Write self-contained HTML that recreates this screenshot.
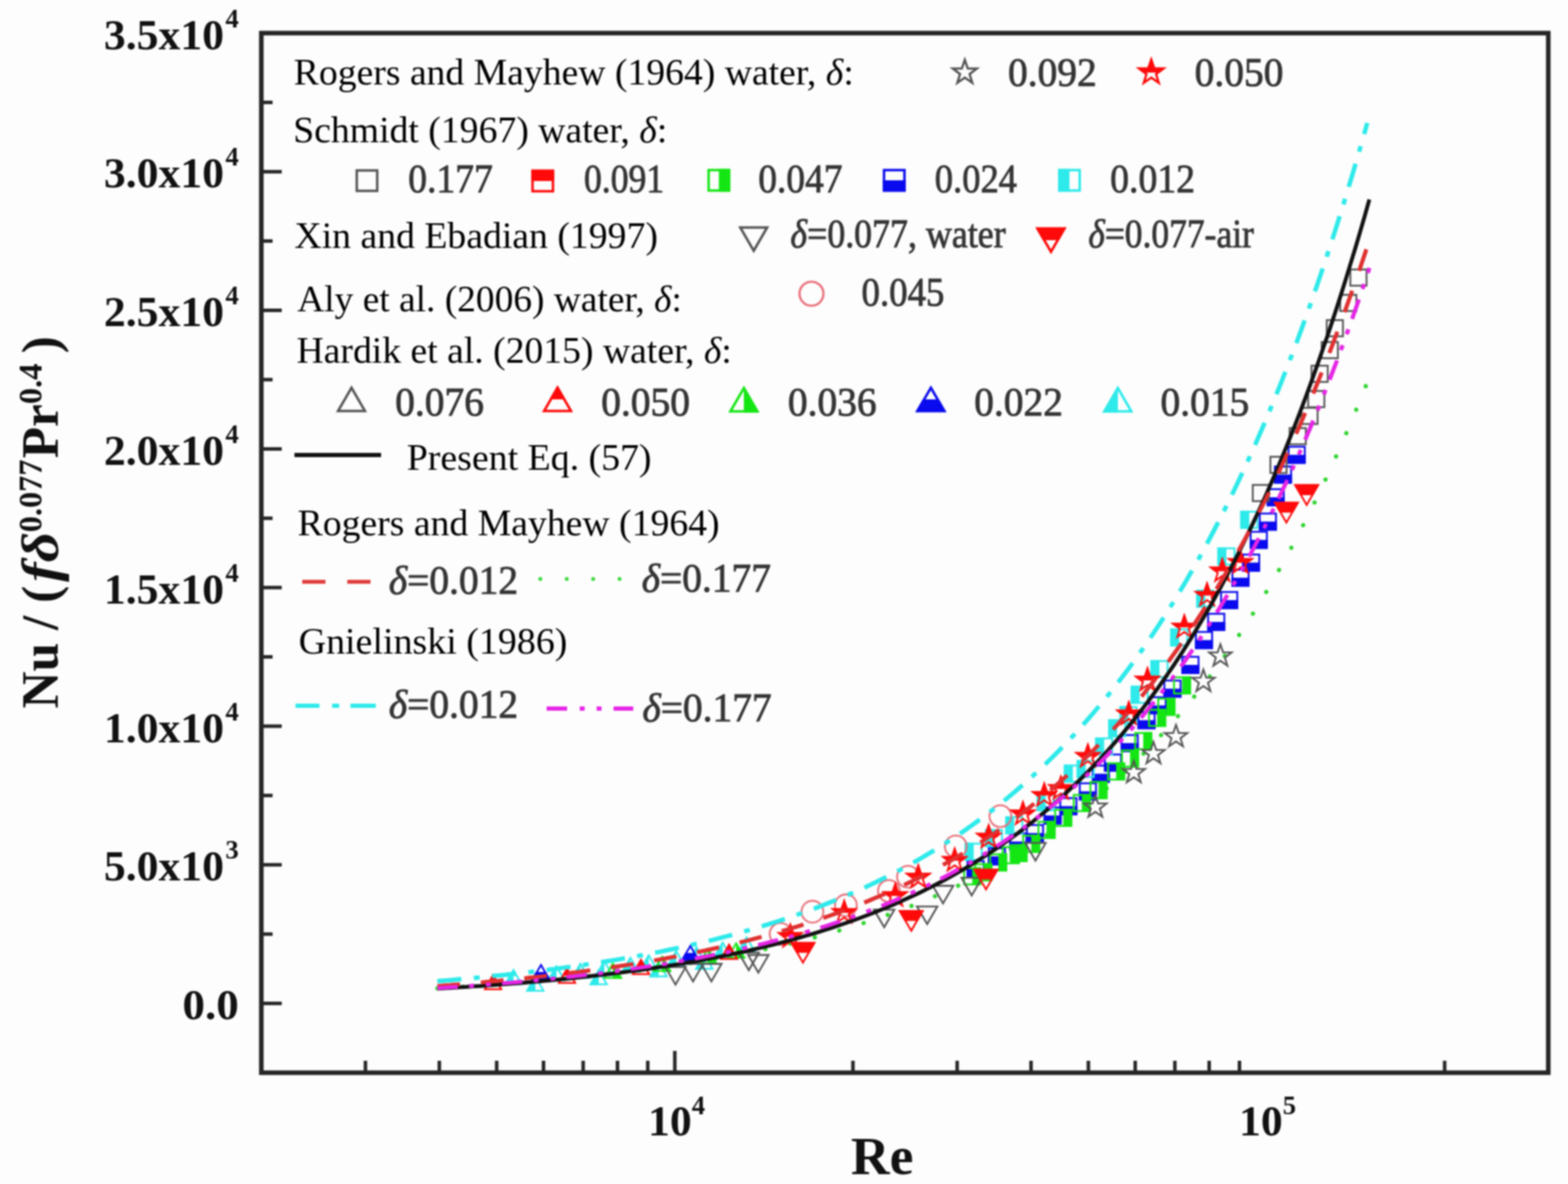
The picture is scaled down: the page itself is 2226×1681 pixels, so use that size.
<!DOCTYPE html>
<html><head><meta charset="utf-8"><style>
html,body{margin:0;padding:0;background:#fdfdfd;}
svg{display:block;filter:blur(0.9px);}
</style></head><body>
<svg width="2226" height="1681" viewBox="0 0 2226 1681">
<rect width="2226" height="1681" fill="#fdfdfd"/>
<g stroke="#262626" fill="none">
<rect x="371" y="47" width="1827" height="1476" stroke-width="6.5"/>
<line x1="518.8" y1="1523" x2="518.8" y2="1506" stroke-width="5"/>
<line x1="623.7" y1="1523" x2="623.7" y2="1506" stroke-width="5"/>
<line x1="705.1" y1="1523" x2="705.1" y2="1506" stroke-width="5"/>
<line x1="771.6" y1="1523" x2="771.6" y2="1506" stroke-width="5"/>
<line x1="827.9" y1="1523" x2="827.9" y2="1506" stroke-width="5"/>
<line x1="876.6" y1="1523" x2="876.6" y2="1506" stroke-width="5"/>
<line x1="919.6" y1="1523" x2="919.6" y2="1506" stroke-width="5"/>
<line x1="958.0" y1="1523" x2="958.0" y2="1492" stroke-width="5"/>
<line x1="1210.9" y1="1523" x2="1210.9" y2="1506" stroke-width="5"/>
<line x1="1358.8" y1="1523" x2="1358.8" y2="1506" stroke-width="5"/>
<line x1="1463.7" y1="1523" x2="1463.7" y2="1506" stroke-width="5"/>
<line x1="1545.1" y1="1523" x2="1545.1" y2="1506" stroke-width="5"/>
<line x1="1611.6" y1="1523" x2="1611.6" y2="1506" stroke-width="5"/>
<line x1="1667.9" y1="1523" x2="1667.9" y2="1506" stroke-width="5"/>
<line x1="1716.6" y1="1523" x2="1716.6" y2="1506" stroke-width="5"/>
<line x1="1759.6" y1="1523" x2="1759.6" y2="1506" stroke-width="5"/>
<line x1="2050.9" y1="1523" x2="2050.9" y2="1506" stroke-width="5"/>
<line x1="371" y1="1424.6" x2="400" y2="1424.6" stroke-width="5"/>
<line x1="371" y1="1326.2" x2="387" y2="1326.2" stroke-width="5"/>
<line x1="371" y1="1227.8" x2="400" y2="1227.8" stroke-width="5"/>
<line x1="371" y1="1129.4" x2="387" y2="1129.4" stroke-width="5"/>
<line x1="371" y1="1031.0" x2="400" y2="1031.0" stroke-width="5"/>
<line x1="371" y1="932.6" x2="387" y2="932.6" stroke-width="5"/>
<line x1="371" y1="834.2" x2="400" y2="834.2" stroke-width="5"/>
<line x1="371" y1="735.8" x2="387" y2="735.8" stroke-width="5"/>
<line x1="371" y1="637.4" x2="400" y2="637.4" stroke-width="5"/>
<line x1="371" y1="539.0" x2="387" y2="539.0" stroke-width="5"/>
<line x1="371" y1="440.6" x2="400" y2="440.6" stroke-width="5"/>
<line x1="371" y1="342.2" x2="387" y2="342.2" stroke-width="5"/>
<line x1="371" y1="243.8" x2="400" y2="243.8" stroke-width="5"/>
<line x1="371" y1="145.4" x2="387" y2="145.4" stroke-width="5"/>
</g>
<g font-family="'Liberation Serif', 'DejaVu Serif', serif" font-weight="bold" fill="#111">
<text x="318" y="69.5" font-size="62" text-anchor="end">3.5x10</text>
<text x="339" y="38.5" font-size="38" text-anchor="end">4</text>
<text x="318" y="266.3" font-size="62" text-anchor="end">3.0x10</text>
<text x="339" y="235.3" font-size="38" text-anchor="end">4</text>
<text x="318" y="463.1" font-size="62" text-anchor="end">2.5x10</text>
<text x="339" y="432.1" font-size="38" text-anchor="end">4</text>
<text x="318" y="659.9" font-size="62" text-anchor="end">2.0x10</text>
<text x="339" y="628.9" font-size="38" text-anchor="end">4</text>
<text x="318" y="856.7" font-size="62" text-anchor="end">1.5x10</text>
<text x="339" y="825.7" font-size="38" text-anchor="end">4</text>
<text x="318" y="1053.5" font-size="62" text-anchor="end">1.0x10</text>
<text x="339" y="1022.5" font-size="38" text-anchor="end">4</text>
<text x="318" y="1250.3" font-size="62" text-anchor="end">5.0x10</text>
<text x="339" y="1219.3" font-size="38" text-anchor="end">3</text>
<text x="339" y="1447.1" font-size="62" text-anchor="end" textLength="80" lengthAdjust="spacingAndGlyphs">0.0</text>
</g>
<g font-family="'Liberation Serif', 'DejaVu Serif', serif" font-weight="bold" fill="#111">
<text x="920" y="1612" font-size="62">10<tspan font-size="38" dy="-30">4</tspan></text>
<text x="1759" y="1612" font-size="62">10<tspan font-size="38" dy="-30">5</tspan></text>
<text x="1208" y="1667" font-size="76">Re</text>
</g>
<text transform="translate(81.5,1006) rotate(-90)" font-family="'Liberation Serif', 'DejaVu Serif', serif" font-weight="bold" font-size="73" fill="#111">Nu / ( <tspan font-style="italic" dx="-13" textLength="71" lengthAdjust="spacingAndGlyphs">fδ</tspan><tspan font-size="46" dy="-23" dx="-0.5">0.077</tspan><tspan dy="23" dx="1.5">Pr</tspan><tspan font-size="46" dy="-23">0.4</tspan><tspan dy="23" dx="-3.5"> )</tspan></text>
<g font-family="'Liberation Serif', 'DejaVu Serif', serif" font-size="53" fill="#000">
<text x="417" y="119.5" textLength="795" lengthAdjust="spacingAndGlyphs">Rogers and Mayhew (1964) water, <tspan font-style="italic">δ</tspan>:</text>
<text x="416.3" y="202.4" textLength="531" lengthAdjust="spacingAndGlyphs">Schmidt (1967) water, <tspan font-style="italic">δ</tspan>:</text>
<text x="418" y="351.7" textLength="516" lengthAdjust="spacingAndGlyphs">Xin and Ebadian (1997)</text>
<text x="422" y="441.9" textLength="546" lengthAdjust="spacingAndGlyphs">Aly et al. (2006) water, <tspan font-style="italic">δ</tspan>:</text>
<text x="421" y="515.4" textLength="618" lengthAdjust="spacingAndGlyphs">Hardik et al. (2015) water, <tspan font-style="italic">δ</tspan>:</text>
<text x="577.5" y="666.5" textLength="347.5" lengthAdjust="spacingAndGlyphs">Present Eq. (57)</text>
<text x="422.5" y="759.8" textLength="599" lengthAdjust="spacingAndGlyphs">Rogers and Mayhew (1964)</text>
<text x="424" y="927.9" textLength="381.5" lengthAdjust="spacingAndGlyphs">Gnielinski (1986)</text>
</g>
<g font-family="'Liberation Serif', 'DejaVu Serif', serif" font-size="56" fill="#343434" stroke="#343434" stroke-width="1.1">
<text x="1431" y="122">0.092</text>
<text x="1696" y="122">0.050</text>
<text x="579.5" y="273" textLength="120.1" lengthAdjust="spacingAndGlyphs">0.177</text>
<text x="829" y="273" textLength="113.9" lengthAdjust="spacingAndGlyphs">0.091</text>
<text x="1076.5" y="273" textLength="119.5" lengthAdjust="spacingAndGlyphs">0.047</text>
<text x="1327" y="273" textLength="116.8" lengthAdjust="spacingAndGlyphs">0.024</text>
<text x="1576" y="273" textLength="120.5" lengthAdjust="spacingAndGlyphs">0.012</text>
<text x="1223" y="434.4" textLength="117.7" lengthAdjust="spacingAndGlyphs">0.045</text>
<text x="561" y="589.7">0.076</text>
<text x="853.5" y="589.7">0.050</text>
<text x="1118.5" y="589.7">0.036</text>
<text x="1383" y="589.7">0.022</text>
<text x="1647.5" y="589.7">0.015</text>
<text x="1122" y="351" textLength="305.7" lengthAdjust="spacingAndGlyphs"><tspan font-style="italic">δ</tspan>=0.077, water</text>
<text x="1545" y="351" textLength="235" lengthAdjust="spacingAndGlyphs"><tspan font-style="italic">δ</tspan>=0.077-air</text>
<text x="552" y="843"><tspan font-style="italic">δ</tspan>=0.012</text>
<text x="911" y="840"><tspan font-style="italic">δ</tspan>=0.177</text>
<text x="552" y="1019"><tspan font-style="italic">δ</tspan>=0.012</text>
<text x="912" y="1024"><tspan font-style="italic">δ</tspan>=0.177</text>
</g>
<g fill="none" stroke="#555" stroke-width="3.2"><polygon points="1369.7,85.0 1373.9,97.2 1386.8,97.4 1376.5,105.2 1380.3,117.6 1369.7,110.2 1359.1,117.6 1362.9,105.2 1352.6,97.4 1365.5,97.2"/></g>
<clipPath id="c1"><rect x="1604.4" y="73.0" width="60.0" height="30.0"/></clipPath><g clip-path="url(#c1)" fill="#ff0a0a" stroke="#ff0a0a" stroke-width="3.2" stroke-linejoin="miter"><polygon points="1634.4,85.0 1638.6,97.2 1651.5,97.4 1641.2,105.2 1645.0,117.6 1634.4,110.2 1623.8,117.6 1627.6,105.2 1617.3,97.4 1630.2,97.2"/></g><g fill="#fff" stroke="#ff0a0a" stroke-width="3.2" fill-opacity="0"><polygon points="1634.4,85.0 1638.6,97.2 1651.5,97.4 1641.2,105.2 1645.0,117.6 1634.4,110.2 1623.8,117.6 1627.6,105.2 1617.3,97.4 1630.2,97.2"/></g>
<g fill="none" stroke="#555" stroke-width="3.5"><rect x="506.5" y="242.0" width="29.0" height="29.0"/></g>
<clipPath id="c2"><rect x="741.5" y="228.0" width="58.0" height="29.0"/></clipPath><g clip-path="url(#c2)" fill="#ff0a0a" stroke="#ff0a0a" stroke-width="3.5" stroke-linejoin="miter"><rect x="756.0" y="242.5" width="29.0" height="29.0"/></g><g fill="#fff" stroke="#ff0a0a" stroke-width="3.5" fill-opacity="0"><rect x="756.0" y="242.5" width="29.0" height="29.0"/></g>
<clipPath id="c3"><rect x="1020.5" y="227.0" width="29.0" height="58.0"/></clipPath><g clip-path="url(#c3)" fill="#14e614" stroke="#14e614" stroke-width="3.5" stroke-linejoin="miter"><rect x="1006.0" y="241.5" width="29.0" height="29.0"/></g><g fill="#fff" stroke="#14e614" stroke-width="3.5" fill-opacity="0"><rect x="1006.0" y="241.5" width="29.0" height="29.0"/></g>
<clipPath id="c4"><rect x="1240.5" y="256.0" width="58.0" height="29.0"/></clipPath><g clip-path="url(#c4)" fill="#0a0aee" stroke="#0a0aee" stroke-width="3.5" stroke-linejoin="miter"><rect x="1255.0" y="241.5" width="29.0" height="29.0"/></g><g fill="#fff" stroke="#0a0aee" stroke-width="3.5" fill-opacity="0"><rect x="1255.0" y="241.5" width="29.0" height="29.0"/></g>
<clipPath id="c5"><rect x="1489.3" y="227.0" width="29.0" height="58.0"/></clipPath><g clip-path="url(#c5)" fill="#2eeaea" stroke="#2eeaea" stroke-width="3.5" stroke-linejoin="miter"><rect x="1503.8" y="241.5" width="29.0" height="29.0"/></g><g fill="#fff" stroke="#2eeaea" stroke-width="3.5" fill-opacity="0"><rect x="1503.8" y="241.5" width="29.0" height="29.0"/></g>
<g fill="none" stroke="#555" stroke-width="3.5"><polygon points="1070.0,356.0 1089.1,323.0 1050.9,323.0"/></g>
<clipPath id="c6"><rect x="1459.0" y="308.0" width="66.0" height="33.0"/></clipPath><g clip-path="url(#c6)" fill="#ff0a0a" stroke="#ff0a0a" stroke-width="3.5" stroke-linejoin="miter"><polygon points="1492.0,357.5 1511.1,324.5 1472.9,324.5"/></g><g fill="#fff" stroke="#ff0a0a" stroke-width="3.5" fill-opacity="0"><polygon points="1492.0,357.5 1511.1,324.5 1472.9,324.5"/></g>
<g fill="none" stroke="#e8707a" stroke-width="3.2"><circle cx="1152.0" cy="417.0" r="17.0"/></g>
<g fill="none" stroke="#555" stroke-width="3.5"><polygon points="499.0,550.5 518.1,583.5 479.9,583.5"/></g>
<clipPath id="c7"><rect x="758.5" y="534.0" width="66.0" height="33.0"/></clipPath><g clip-path="url(#c7)" fill="#ff0a0a" stroke="#ff0a0a" stroke-width="3.5" stroke-linejoin="miter"><polygon points="791.5,550.5 810.6,583.5 772.4,583.5"/></g><g fill="#fff" stroke="#ff0a0a" stroke-width="3.5" fill-opacity="0"><polygon points="791.5,550.5 810.6,583.5 772.4,583.5"/></g>
<clipPath id="c8"><rect x="1056.0" y="534.5" width="33.0" height="66.0"/></clipPath><g clip-path="url(#c8)" fill="#14e614" stroke="#14e614" stroke-width="3.5" stroke-linejoin="miter"><polygon points="1056.0,551.0 1075.1,584.0 1036.9,584.0"/></g><g fill="#fff" stroke="#14e614" stroke-width="3.5" fill-opacity="0"><polygon points="1056.0,551.0 1075.1,584.0 1036.9,584.0"/></g>
<clipPath id="c9"><rect x="1288.5" y="567.0" width="66.0" height="33.0"/></clipPath><g clip-path="url(#c9)" fill="#0a0aee" stroke="#0a0aee" stroke-width="3.5" stroke-linejoin="miter"><polygon points="1321.5,550.5 1340.6,583.5 1302.4,583.5"/></g><g fill="#fff" stroke="#0a0aee" stroke-width="3.5" fill-opacity="0"><polygon points="1321.5,550.5 1340.6,583.5 1302.4,583.5"/></g>
<clipPath id="c10"><rect x="1554.0" y="534.5" width="33.0" height="66.0"/></clipPath><g clip-path="url(#c10)" fill="#2eeaea" stroke="#2eeaea" stroke-width="3.5" stroke-linejoin="miter"><polygon points="1587.0,551.0 1606.1,584.0 1567.9,584.0"/></g><g fill="#fff" stroke="#2eeaea" stroke-width="3.5" fill-opacity="0"><polygon points="1587.0,551.0 1606.1,584.0 1567.9,584.0"/></g>
<line x1="418" y1="646" x2="541" y2="646" stroke="#111" stroke-width="6"/>
<line x1="429" y1="826" x2="526" y2="826" stroke="#e03a3a" stroke-width="5.5" stroke-dasharray="33 31"/>
<line x1="767" y1="822" x2="882" y2="822" stroke="#3ad83a" stroke-width="5.5" stroke-dasharray="0.1 37.4" stroke-linecap="round"/>
<line x1="419.5" y1="1002" x2="534" y2="1002" stroke="#2eeaea" stroke-width="6" stroke-dasharray="34 18 10 16 36"/>
<line x1="776" y1="1006" x2="900" y2="1006" stroke="#e625e6" stroke-width="6" stroke-dasharray="29 18 7 17 7 17 28"/>
<path d="M621.0,1403.3 L627.6,1402.9 L634.2,1402.5 L640.8,1402.1 L647.4,1401.7 L654.0,1401.3 L660.6,1400.9 L667.2,1400.5 L673.8,1400.0 L680.4,1399.6 L687.0,1399.2 L693.5,1398.7 L700.1,1398.2 L706.7,1397.8 L713.3,1397.3 L719.9,1396.8 L726.5,1396.3 L733.1,1395.8 L739.7,1395.2 L746.3,1394.7 L752.9,1394.2 L759.5,1393.6 L766.1,1393.1 L772.7,1392.5 L779.3,1391.9 L785.9,1391.3 L792.5,1390.7 L799.1,1390.1 L805.7,1389.4 L812.3,1388.8 L818.9,1388.1 L825.4,1387.5 L832.0,1386.8 L838.6,1386.1 L845.2,1385.4 L851.8,1384.7 L858.4,1383.9 L865.0,1383.2 L871.6,1382.4 L878.2,1381.7 L884.8,1380.9 L891.4,1380.1 L898.0,1379.2 L904.6,1378.4 L911.2,1377.5 L917.8,1376.7 L924.4,1375.8 L931.0,1374.9 L937.6,1374.0 L944.2,1373.0 L950.8,1372.1 L957.3,1371.1 L963.9,1370.1 L970.5,1369.1 L977.1,1368.0 L983.7,1367.0 L990.3,1365.9 L996.9,1364.8 L1003.5,1363.7 L1010.1,1362.6 L1016.7,1361.4 L1023.3,1360.2 L1029.9,1359.0 L1036.5,1357.8 L1043.1,1356.6 L1049.7,1355.3 L1056.3,1354.0 L1062.9,1352.7 L1069.5,1351.3 L1076.1,1349.9 L1082.7,1348.5 L1089.2,1347.1 L1095.8,1345.7 L1102.4,1344.2 L1109.0,1342.7 L1115.6,1341.1 L1122.2,1339.6 L1128.8,1338.0 L1135.4,1336.3 L1142.0,1334.7 L1148.6,1333.0 L1155.2,1331.3 L1161.8,1329.5 L1168.4,1327.7 L1175.0,1325.9 L1181.6,1324.0 L1188.2,1322.1 L1194.8,1320.2 L1201.4,1318.2 L1208.0,1316.2 L1214.5,1314.2 L1221.1,1312.1 L1227.7,1310.0 L1234.3,1307.8 L1240.9,1305.6 L1247.5,1303.3 L1254.1,1301.0 L1260.7,1298.7 L1267.3,1296.3 L1273.9,1293.9 L1280.5,1291.4 L1287.1,1288.9 L1293.7,1286.3 L1300.3,1283.7 L1306.9,1281.0 L1313.5,1278.3 L1320.1,1275.6 L1326.7,1272.7 L1333.3,1269.9 L1339.9,1266.9 L1346.5,1263.9 L1353.0,1260.9 L1359.6,1257.8 L1366.2,1254.6 L1372.8,1251.4 L1379.4,1248.1 L1386.0,1244.7 L1392.6,1241.3 L1399.2,1237.9 L1405.8,1234.3 L1412.4,1230.7 L1419.0,1227.0 L1425.6,1223.3 L1432.2,1219.4 L1438.8,1215.5 L1445.4,1211.6 L1452.0,1207.5 L1458.6,1203.4 L1465.2,1199.2 L1471.8,1194.9 L1478.3,1190.5 L1484.9,1186.1 L1491.5,1181.5 L1498.1,1176.9 L1504.7,1172.2 L1511.3,1167.4 L1517.9,1162.5 L1524.5,1157.5 L1531.1,1152.4 L1537.7,1147.2 L1544.3,1141.9 L1550.9,1136.5 L1557.5,1131.1 L1564.1,1125.5 L1570.7,1119.8 L1577.3,1114.0 L1583.9,1108.0 L1590.5,1102.0 L1597.1,1095.9 L1603.7,1089.6 L1610.2,1083.2 L1616.8,1076.7 L1623.4,1070.1 L1630.0,1063.3 L1636.6,1056.4 L1643.2,1049.4 L1649.8,1042.2 L1656.4,1034.9 L1663.0,1027.5 L1669.6,1019.9 L1676.2,1012.2 L1682.8,1004.3 L1689.4,996.3 L1696.0,988.1 L1702.6,979.8 L1709.2,971.3 L1715.8,962.7 L1722.4,953.8 L1729.0,944.9 L1735.6,935.7 L1742.2,926.4 L1748.7,916.9 L1755.3,907.2 L1761.9,897.3 L1768.5,887.2 L1775.1,876.9 L1781.7,866.5 L1788.3,855.8 L1794.9,845.0 L1801.5,833.9 L1808.1,822.6 L1814.7,811.1 L1821.3,799.4 L1827.9,787.4 L1834.5,775.3 L1841.1,762.8 L1847.7,750.2 L1854.3,737.3 L1860.9,724.2 L1867.5,710.8 L1874.0,697.1 L1880.6,683.2 L1887.2,669.1 L1893.8,654.6 L1900.4,639.9 L1907.0,624.9 L1913.6,609.6 L1920.2,594.0 L1926.8,578.2 L1933.4,562.0 L1940.0,545.5" fill="none" stroke="#2ed42e" stroke-width="6" stroke-dasharray="0.1 36" stroke-linecap="round"/>
<path d="M621.0,1402.9 L627.6,1402.5 L634.2,1402.1 L640.9,1401.6 L647.5,1401.2 L654.1,1400.7 L660.7,1400.2 L667.3,1399.8 L674.0,1399.3 L680.6,1398.8 L687.2,1398.2 L693.8,1397.7 L700.4,1397.2 L707.1,1396.6 L713.7,1396.1 L720.3,1395.5 L726.9,1395.0 L733.5,1394.4 L740.2,1393.8 L746.8,1393.2 L753.4,1392.5 L760.0,1391.9 L766.6,1391.3 L773.3,1390.6 L779.9,1389.9 L786.5,1389.3 L793.1,1388.6 L799.7,1387.8 L806.4,1387.1 L813.0,1386.4 L819.6,1385.6 L826.2,1384.9 L832.8,1384.1 L839.5,1383.3 L846.1,1382.5 L852.7,1381.6 L859.3,1380.8 L865.9,1379.9 L872.6,1379.1 L879.2,1378.2 L885.8,1377.2 L892.4,1376.3 L899.0,1375.4 L905.7,1374.4 L912.3,1373.4 L918.9,1372.4 L925.5,1371.4 L932.1,1370.3 L938.8,1369.3 L945.4,1368.2 L952.0,1367.1 L958.6,1366.0 L965.2,1364.8 L971.9,1363.6 L978.5,1362.4 L985.1,1361.2 L991.7,1360.0 L998.3,1358.7 L1005.0,1357.4 L1011.6,1356.1 L1018.2,1354.7 L1024.8,1353.4 L1031.4,1352.0 L1038.1,1350.6 L1044.7,1349.1 L1051.3,1347.6 L1057.9,1346.1 L1064.5,1344.6 L1071.2,1343.0 L1077.8,1341.4 L1084.4,1339.8 L1091.0,1338.1 L1097.6,1336.4 L1104.3,1334.7 L1110.9,1332.9 L1117.5,1331.2 L1124.1,1329.3 L1130.7,1327.5 L1137.4,1325.6 L1144.0,1323.6 L1150.6,1321.6 L1157.2,1319.6 L1163.8,1317.6 L1170.5,1315.5 L1177.1,1313.4 L1183.7,1311.2 L1190.3,1309.0 L1196.9,1306.7 L1203.6,1304.4 L1210.2,1302.0 L1216.8,1299.6 L1223.4,1297.2 L1230.0,1294.7 L1236.7,1292.2 L1243.3,1289.6 L1249.9,1286.9 L1256.5,1284.3 L1263.1,1281.5 L1269.8,1278.7 L1276.4,1275.9 L1283.0,1273.0 L1289.6,1270.0 L1296.2,1267.0 L1302.9,1263.9 L1309.5,1260.8 L1316.1,1257.6 L1322.7,1254.3 L1329.3,1251.0 L1336.0,1247.6 L1342.6,1244.1 L1349.2,1240.6 L1355.8,1237.0 L1362.4,1233.3 L1369.1,1229.6 L1375.7,1225.8 L1382.3,1221.9 L1388.9,1218.0 L1395.5,1213.9 L1402.2,1209.8 L1408.8,1205.6 L1415.4,1201.3 L1422.0,1197.0 L1428.6,1192.5 L1435.3,1188.0 L1441.9,1183.4 L1448.5,1178.7 L1455.1,1173.9 L1461.7,1169.0 L1468.4,1164.0 L1475.0,1158.9 L1481.6,1153.7 L1488.2,1148.5 L1494.8,1143.1 L1501.5,1137.6 L1508.1,1132.0 L1514.7,1126.3 L1521.3,1120.4 L1527.9,1114.5 L1534.6,1108.5 L1541.2,1102.3 L1547.8,1096.0 L1554.4,1089.6 L1561.0,1083.1 L1567.7,1076.4 L1574.3,1069.6 L1580.9,1062.7 L1587.5,1055.6 L1594.1,1048.4 L1600.8,1041.1 L1607.4,1033.6 L1614.0,1026.0 L1620.6,1018.2 L1627.2,1010.3 L1633.9,1002.2 L1640.5,994.0 L1647.1,985.6 L1653.7,977.0 L1660.3,968.3 L1667.0,959.4 L1673.6,950.3 L1680.2,941.1 L1686.8,931.6 L1693.4,922.0 L1700.1,912.2 L1706.7,902.2 L1713.3,892.0 L1719.9,881.6 L1726.5,871.1 L1733.2,860.3 L1739.8,849.3 L1746.4,838.1 L1753.0,826.6 L1759.6,815.0 L1766.3,803.1 L1772.9,791.0 L1779.5,778.6 L1786.1,766.0 L1792.7,753.2 L1799.4,740.1 L1806.0,726.7 L1812.6,713.1 L1819.2,699.3 L1825.8,685.1 L1832.5,670.7 L1839.1,656.0 L1845.7,641.0 L1852.3,625.7 L1858.9,610.2 L1865.6,594.3 L1872.2,578.1 L1878.8,561.6 L1885.4,544.8 L1892.0,527.6 L1898.7,510.2 L1905.3,492.3 L1911.9,474.2 L1918.5,455.6 L1925.1,436.8 L1931.8,417.5 L1938.4,397.9 L1945.0,377.9" fill="none" stroke="#e625e6" stroke-width="5.5" stroke-dasharray="29 16 7 17 7 16"/>
<path d="M621.0,1399.9 L627.6,1399.4 L634.2,1398.9 L640.8,1398.4 L647.5,1397.9 L654.1,1397.3 L660.7,1396.8 L667.3,1396.2 L673.9,1395.7 L680.5,1395.1 L687.1,1394.5 L693.8,1393.9 L700.4,1393.3 L707.0,1392.7 L713.6,1392.1 L720.2,1391.4 L726.8,1390.8 L733.5,1390.1 L740.1,1389.4 L746.7,1388.7 L753.3,1388.0 L759.9,1387.3 L766.5,1386.6 L773.1,1385.8 L779.8,1385.1 L786.4,1384.3 L793.0,1383.5 L799.6,1382.7 L806.2,1381.9 L812.8,1381.0 L819.5,1380.2 L826.1,1379.3 L832.7,1378.5 L839.3,1377.6 L845.9,1376.6 L852.5,1375.7 L859.1,1374.8 L865.8,1373.8 L872.4,1372.8 L879.0,1371.8 L885.6,1370.8 L892.2,1369.7 L898.8,1368.7 L905.4,1367.6 L912.1,1366.5 L918.7,1365.4 L925.3,1364.2 L931.9,1363.1 L938.5,1361.9 L945.1,1360.7 L951.8,1359.4 L958.4,1358.2 L965.0,1356.9 L971.6,1355.6 L978.2,1354.3 L984.8,1352.9 L991.4,1351.5 L998.1,1350.1 L1004.7,1348.7 L1011.3,1347.3 L1017.9,1345.8 L1024.5,1344.3 L1031.1,1342.7 L1037.7,1341.2 L1044.4,1339.6 L1051.0,1337.9 L1057.6,1336.3 L1064.2,1334.6 L1070.8,1332.9 L1077.4,1331.1 L1084.0,1329.3 L1090.7,1327.5 L1097.3,1325.7 L1103.9,1323.8 L1110.5,1321.8 L1117.1,1319.9 L1123.7,1317.9 L1130.4,1315.9 L1137.0,1313.8 L1143.6,1311.7 L1150.2,1309.5 L1156.8,1307.3 L1163.4,1305.1 L1170.0,1302.8 L1176.7,1300.5 L1183.3,1298.2 L1189.9,1295.8 L1196.5,1293.3 L1203.1,1290.8 L1209.7,1288.3 L1216.3,1285.7 L1223.0,1283.0 L1229.6,1280.4 L1236.2,1277.6 L1242.8,1274.8 L1249.4,1272.0 L1256.0,1269.1 L1262.7,1266.1 L1269.3,1263.1 L1275.9,1260.1 L1282.5,1257.0 L1289.1,1253.8 L1295.7,1250.6 L1302.3,1247.3 L1309.0,1243.9 L1315.6,1240.5 L1322.2,1237.0 L1328.8,1233.5 L1335.4,1229.8 L1342.0,1226.1 L1348.7,1222.4 L1355.3,1218.6 L1361.9,1214.7 L1368.5,1210.7 L1375.1,1206.7 L1381.7,1202.5 L1388.3,1198.4 L1395.0,1194.1 L1401.6,1189.7 L1408.2,1185.3 L1414.8,1180.8 L1421.4,1176.2 L1428.0,1171.5 L1434.6,1166.7 L1441.3,1161.8 L1447.9,1156.9 L1454.5,1151.8 L1461.1,1146.7 L1467.7,1141.4 L1474.3,1136.1 L1481.0,1130.6 L1487.6,1125.1 L1494.2,1119.4 L1500.8,1113.7 L1507.4,1107.8 L1514.0,1101.9 L1520.6,1095.8 L1527.3,1089.6 L1533.9,1083.3 L1540.5,1076.8 L1547.1,1070.3 L1553.7,1063.6 L1560.3,1056.8 L1566.9,1049.9 L1573.6,1042.8 L1580.2,1035.6 L1586.8,1028.3 L1593.4,1020.8 L1600.0,1013.2 L1606.6,1005.5 L1613.2,997.6 L1619.9,989.6 L1626.5,981.4 L1633.1,973.0 L1639.7,964.5 L1646.3,955.9 L1652.9,947.1 L1659.6,938.1 L1666.2,928.9 L1672.8,919.6 L1679.4,910.1 L1686.0,900.4 L1692.6,890.6 L1699.2,880.5 L1705.9,870.3 L1712.5,859.9 L1719.1,849.2 L1725.7,838.4 L1732.3,827.4 L1738.9,816.2 L1745.5,804.7 L1752.2,793.1 L1758.8,781.2 L1765.4,769.1 L1772.0,756.8 L1778.6,744.2 L1785.2,731.4 L1791.9,718.4 L1798.5,705.1 L1805.1,691.6 L1811.7,677.8 L1818.3,663.8 L1824.9,649.5 L1831.5,634.9 L1838.2,620.1 L1844.8,605.0 L1851.4,589.6 L1858.0,573.9 L1864.6,557.9 L1871.2,541.7 L1877.8,525.1 L1884.5,508.2 L1891.1,491.0 L1897.7,473.4 L1904.3,455.6 L1910.9,437.4 L1917.5,418.8 L1924.2,399.9 L1930.8,380.7 L1937.4,361.1 L1944.0,341.1" fill="none" stroke="#e03030" stroke-width="5.5" stroke-dasharray="32 30"/>
<path d="M621.0,1393.0 L627.6,1392.5 L634.2,1391.9 L640.8,1391.4 L647.4,1390.8 L654.0,1390.2 L660.6,1389.6 L667.2,1389.0 L673.8,1388.4 L680.4,1387.8 L687.0,1387.1 L693.6,1386.5 L700.2,1385.8 L706.8,1385.1 L713.4,1384.4 L720.0,1383.7 L726.6,1383.0 L733.2,1382.3 L739.8,1381.5 L746.4,1380.8 L753.0,1380.0 L759.6,1379.2 L766.2,1378.4 L772.8,1377.6 L779.4,1376.7 L786.0,1375.9 L792.6,1375.0 L799.2,1374.1 L805.8,1373.2 L812.4,1372.3 L819.0,1371.4 L825.6,1370.4 L832.2,1369.4 L838.8,1368.4 L845.4,1367.4 L852.0,1366.4 L858.6,1365.3 L865.2,1364.3 L871.8,1363.2 L878.4,1362.1 L885.0,1360.9 L891.6,1359.8 L898.2,1358.6 L904.8,1357.4 L911.4,1356.2 L918.0,1354.9 L924.6,1353.7 L931.2,1352.4 L937.8,1351.1 L944.4,1349.7 L951.0,1348.3 L957.6,1346.9 L964.2,1345.5 L970.8,1344.1 L977.4,1342.6 L984.0,1341.1 L990.6,1339.6 L997.2,1338.0 L1003.8,1336.4 L1010.4,1334.8 L1017.0,1333.1 L1023.6,1331.4 L1030.2,1329.7 L1036.8,1328.0 L1043.4,1326.2 L1050.0,1324.4 L1056.6,1322.5 L1063.2,1320.6 L1069.8,1318.7 L1076.4,1316.7 L1083.0,1314.7 L1089.6,1312.7 L1096.2,1310.6 L1102.8,1308.5 L1109.4,1306.4 L1116.0,1304.2 L1122.6,1301.9 L1129.2,1299.7 L1135.8,1297.3 L1142.4,1295.0 L1149.0,1292.5 L1155.6,1290.1 L1162.2,1287.6 L1168.8,1285.0 L1175.4,1282.4 L1182.0,1279.8 L1188.6,1277.1 L1195.2,1274.3 L1201.8,1271.5 L1208.4,1268.6 L1215.0,1265.7 L1221.6,1262.7 L1228.2,1259.7 L1234.8,1256.6 L1241.4,1253.5 L1248.0,1250.3 L1254.6,1247.0 L1261.2,1243.7 L1267.8,1240.3 L1274.4,1236.8 L1281.0,1233.3 L1287.6,1229.7 L1294.2,1226.0 L1300.8,1222.3 L1307.4,1218.5 L1314.0,1214.6 L1320.6,1210.7 L1327.2,1206.7 L1333.8,1202.6 L1340.4,1198.4 L1347.0,1194.1 L1353.6,1189.8 L1360.2,1185.4 L1366.8,1180.9 L1373.4,1176.3 L1380.0,1171.6 L1386.6,1166.8 L1393.2,1162.0 L1399.8,1157.0 L1406.4,1152.0 L1413.0,1146.8 L1419.6,1141.6 L1426.2,1136.2 L1432.8,1130.8 L1439.4,1125.2 L1446.0,1119.6 L1452.6,1113.8 L1459.2,1107.9 L1465.8,1102.0 L1472.4,1095.9 L1479.0,1089.6 L1485.6,1083.3 L1492.2,1076.9 L1498.8,1070.3 L1505.4,1063.6 L1512.0,1056.7 L1518.6,1049.8 L1525.2,1042.7 L1531.8,1035.5 L1538.4,1028.1 L1545.0,1020.6 L1551.6,1012.9 L1558.2,1005.1 L1564.8,997.2 L1571.4,989.1 L1578.0,980.8 L1584.6,972.4 L1591.2,963.9 L1597.8,955.1 L1604.4,946.2 L1611.0,937.1 L1617.6,927.9 L1624.2,918.5 L1630.8,908.9 L1637.4,899.1 L1644.0,889.1 L1650.6,879.0 L1657.2,868.6 L1663.8,858.0 L1670.4,847.3 L1677.0,836.3 L1683.6,825.2 L1690.2,813.8 L1696.8,802.2 L1703.4,790.4 L1710.0,778.3 L1716.6,766.0 L1723.2,753.5 L1729.8,740.8 L1736.4,727.8 L1743.0,714.5 L1749.6,701.0 L1756.2,687.3 L1762.8,673.3 L1769.4,659.0 L1776.0,644.4 L1782.6,629.6 L1789.2,614.5 L1795.8,599.1 L1802.4,583.4 L1809.0,567.4 L1815.6,551.1 L1822.2,534.5 L1828.8,517.5 L1835.4,500.3 L1842.0,482.7 L1848.6,464.8 L1855.2,446.5 L1861.8,427.9 L1868.4,408.9 L1875.0,389.6 L1881.6,369.9 L1888.2,349.8 L1894.8,329.4 L1901.4,308.5 L1908.0,287.3 L1914.6,265.6 L1921.2,243.6 L1927.8,221.1 L1934.4,198.2 L1941.0,174.8" fill="none" stroke="#2eeaea" stroke-width="6" stroke-dasharray="34 18 8 18"/>
<clipPath id="c11"><rect x="1362.0" y="1234.0" width="46.0" height="23.0"/></clipPath><g clip-path="url(#c11)" fill="#0a0aee" stroke="#0a0aee" stroke-width="2.6" stroke-linejoin="miter"><rect x="1373.5" y="1222.5" width="23.0" height="23.0"/></g><g fill="#fff" stroke="#0a0aee" stroke-width="2.6" fill-opacity="0"><rect x="1373.5" y="1222.5" width="23.0" height="23.0"/></g>
<clipPath id="c12"><rect x="1392.3" y="1215.8" width="46.0" height="23.0"/></clipPath><g clip-path="url(#c12)" fill="#0a0aee" stroke="#0a0aee" stroke-width="2.6" stroke-linejoin="miter"><rect x="1403.8" y="1204.3" width="23.0" height="23.0"/></g><g fill="#fff" stroke="#0a0aee" stroke-width="2.6" fill-opacity="0"><rect x="1403.8" y="1204.3" width="23.0" height="23.0"/></g>
<clipPath id="c13"><rect x="1422.6" y="1194.7" width="46.0" height="23.0"/></clipPath><g clip-path="url(#c13)" fill="#0a0aee" stroke="#0a0aee" stroke-width="2.6" stroke-linejoin="miter"><rect x="1434.1" y="1183.2" width="23.0" height="23.0"/></g><g fill="#fff" stroke="#0a0aee" stroke-width="2.6" fill-opacity="0"><rect x="1434.1" y="1183.2" width="23.0" height="23.0"/></g>
<clipPath id="c14"><rect x="1446.3" y="1182.8" width="46.0" height="23.0"/></clipPath><g clip-path="url(#c14)" fill="#0a0aee" stroke="#0a0aee" stroke-width="2.6" stroke-linejoin="miter"><rect x="1457.8" y="1171.3" width="23.0" height="23.0"/></g><g fill="#fff" stroke="#0a0aee" stroke-width="2.6" fill-opacity="0"><rect x="1457.8" y="1171.3" width="23.0" height="23.0"/></g>
<clipPath id="c15"><rect x="1471.4" y="1157.8" width="46.0" height="23.0"/></clipPath><g clip-path="url(#c15)" fill="#0a0aee" stroke="#0a0aee" stroke-width="2.6" stroke-linejoin="miter"><rect x="1482.9" y="1146.3" width="23.0" height="23.0"/></g><g fill="#fff" stroke="#0a0aee" stroke-width="2.6" fill-opacity="0"><rect x="1482.9" y="1146.3" width="23.0" height="23.0"/></g>
<clipPath id="c16"><rect x="1493.7" y="1144.6" width="46.0" height="23.0"/></clipPath><g clip-path="url(#c16)" fill="#0a0aee" stroke="#0a0aee" stroke-width="2.6" stroke-linejoin="miter"><rect x="1505.2" y="1133.1" width="23.0" height="23.0"/></g><g fill="#fff" stroke="#0a0aee" stroke-width="2.6" fill-opacity="0"><rect x="1505.2" y="1133.1" width="23.0" height="23.0"/></g>
<clipPath id="c17"><rect x="1521.4" y="1123.6" width="46.0" height="23.0"/></clipPath><g clip-path="url(#c17)" fill="#0a0aee" stroke="#0a0aee" stroke-width="2.6" stroke-linejoin="miter"><rect x="1532.9" y="1112.1" width="23.0" height="23.0"/></g><g fill="#fff" stroke="#0a0aee" stroke-width="2.6" fill-opacity="0"><rect x="1532.9" y="1112.1" width="23.0" height="23.0"/></g>
<clipPath id="c18"><rect x="1539.8" y="1098.5" width="46.0" height="23.0"/></clipPath><g clip-path="url(#c18)" fill="#0a0aee" stroke="#0a0aee" stroke-width="2.6" stroke-linejoin="miter"><rect x="1551.3" y="1087.0" width="23.0" height="23.0"/></g><g fill="#fff" stroke="#0a0aee" stroke-width="2.6" fill-opacity="0"><rect x="1551.3" y="1087.0" width="23.0" height="23.0"/></g>
<clipPath id="c19"><rect x="1557.0" y="1082.7" width="46.0" height="23.0"/></clipPath><g clip-path="url(#c19)" fill="#0a0aee" stroke="#0a0aee" stroke-width="2.6" stroke-linejoin="miter"><rect x="1568.5" y="1071.2" width="23.0" height="23.0"/></g><g fill="#fff" stroke="#0a0aee" stroke-width="2.6" fill-opacity="0"><rect x="1568.5" y="1071.2" width="23.0" height="23.0"/></g>
<clipPath id="c20"><rect x="1580.7" y="1055.1" width="46.0" height="23.0"/></clipPath><g clip-path="url(#c20)" fill="#0a0aee" stroke="#0a0aee" stroke-width="2.6" stroke-linejoin="miter"><rect x="1592.2" y="1043.6" width="23.0" height="23.0"/></g><g fill="#fff" stroke="#0a0aee" stroke-width="2.6" fill-opacity="0"><rect x="1592.2" y="1043.6" width="23.0" height="23.0"/></g>
<clipPath id="c21"><rect x="1604.6" y="1022.5" width="46.0" height="23.0"/></clipPath><g clip-path="url(#c21)" fill="#0a0aee" stroke="#0a0aee" stroke-width="2.6" stroke-linejoin="miter"><rect x="1616.1" y="1011.0" width="23.0" height="23.0"/></g><g fill="#fff" stroke="#0a0aee" stroke-width="2.6" fill-opacity="0"><rect x="1616.1" y="1011.0" width="23.0" height="23.0"/></g>
<clipPath id="c22"><rect x="1620.4" y="1001.4" width="46.0" height="23.0"/></clipPath><g clip-path="url(#c22)" fill="#0a0aee" stroke="#0a0aee" stroke-width="2.6" stroke-linejoin="miter"><rect x="1631.9" y="989.9" width="23.0" height="23.0"/></g><g fill="#fff" stroke="#0a0aee" stroke-width="2.6" fill-opacity="0"><rect x="1631.9" y="989.9" width="23.0" height="23.0"/></g>
<clipPath id="c23"><rect x="1641.5" y="977.7" width="46.0" height="23.0"/></clipPath><g clip-path="url(#c23)" fill="#0a0aee" stroke="#0a0aee" stroke-width="2.6" stroke-linejoin="miter"><rect x="1653.0" y="966.2" width="23.0" height="23.0"/></g><g fill="#fff" stroke="#0a0aee" stroke-width="2.6" fill-opacity="0"><rect x="1653.0" y="966.2" width="23.0" height="23.0"/></g>
<clipPath id="c24"><rect x="1667.0" y="944.0" width="46.0" height="23.0"/></clipPath><g clip-path="url(#c24)" fill="#0a0aee" stroke="#0a0aee" stroke-width="2.6" stroke-linejoin="miter"><rect x="1678.5" y="932.5" width="23.0" height="23.0"/></g><g fill="#fff" stroke="#0a0aee" stroke-width="2.6" fill-opacity="0"><rect x="1678.5" y="932.5" width="23.0" height="23.0"/></g>
<clipPath id="c25"><rect x="1686.3" y="908.7" width="46.0" height="23.0"/></clipPath><g clip-path="url(#c25)" fill="#0a0aee" stroke="#0a0aee" stroke-width="2.6" stroke-linejoin="miter"><rect x="1697.8" y="897.2" width="23.0" height="23.0"/></g><g fill="#fff" stroke="#0a0aee" stroke-width="2.6" fill-opacity="0"><rect x="1697.8" y="897.2" width="23.0" height="23.0"/></g>
<clipPath id="c26"><rect x="1703.6" y="882.9" width="46.0" height="23.0"/></clipPath><g clip-path="url(#c26)" fill="#0a0aee" stroke="#0a0aee" stroke-width="2.6" stroke-linejoin="miter"><rect x="1715.1" y="871.4" width="23.0" height="23.0"/></g><g fill="#fff" stroke="#0a0aee" stroke-width="2.6" fill-opacity="0"><rect x="1715.1" y="871.4" width="23.0" height="23.0"/></g>
<clipPath id="c27"><rect x="1722.0" y="852.0" width="46.0" height="23.0"/></clipPath><g clip-path="url(#c27)" fill="#0a0aee" stroke="#0a0aee" stroke-width="2.6" stroke-linejoin="miter"><rect x="1733.5" y="840.5" width="23.0" height="23.0"/></g><g fill="#fff" stroke="#0a0aee" stroke-width="2.6" fill-opacity="0"><rect x="1733.5" y="840.5" width="23.0" height="23.0"/></g>
<clipPath id="c28"><rect x="1738.1" y="820.3" width="46.0" height="23.0"/></clipPath><g clip-path="url(#c28)" fill="#0a0aee" stroke="#0a0aee" stroke-width="2.6" stroke-linejoin="miter"><rect x="1749.6" y="808.8" width="23.0" height="23.0"/></g><g fill="#fff" stroke="#0a0aee" stroke-width="2.6" fill-opacity="0"><rect x="1749.6" y="808.8" width="23.0" height="23.0"/></g>
<clipPath id="c29"><rect x="1753.2" y="798.8" width="46.0" height="23.0"/></clipPath><g clip-path="url(#c29)" fill="#0a0aee" stroke="#0a0aee" stroke-width="2.6" stroke-linejoin="miter"><rect x="1764.7" y="787.3" width="23.0" height="23.0"/></g><g fill="#fff" stroke="#0a0aee" stroke-width="2.6" fill-opacity="0"><rect x="1764.7" y="787.3" width="23.0" height="23.0"/></g>
<clipPath id="c30"><rect x="1764.0" y="766.5" width="46.0" height="23.0"/></clipPath><g clip-path="url(#c30)" fill="#0a0aee" stroke="#0a0aee" stroke-width="2.6" stroke-linejoin="miter"><rect x="1775.5" y="755.0" width="23.0" height="23.0"/></g><g fill="#fff" stroke="#0a0aee" stroke-width="2.6" fill-opacity="0"><rect x="1775.5" y="755.0" width="23.0" height="23.0"/></g>
<clipPath id="c31"><rect x="1776.9" y="740.6" width="46.0" height="23.0"/></clipPath><g clip-path="url(#c31)" fill="#0a0aee" stroke="#0a0aee" stroke-width="2.6" stroke-linejoin="miter"><rect x="1788.4" y="729.1" width="23.0" height="23.0"/></g><g fill="#fff" stroke="#0a0aee" stroke-width="2.6" fill-opacity="0"><rect x="1788.4" y="729.1" width="23.0" height="23.0"/></g>
<clipPath id="c32"><rect x="1788.0" y="706.0" width="46.0" height="23.0"/></clipPath><g clip-path="url(#c32)" fill="#0a0aee" stroke="#0a0aee" stroke-width="2.6" stroke-linejoin="miter"><rect x="1799.5" y="694.5" width="23.0" height="23.0"/></g><g fill="#fff" stroke="#0a0aee" stroke-width="2.6" fill-opacity="0"><rect x="1799.5" y="694.5" width="23.0" height="23.0"/></g>
<clipPath id="c33"><rect x="1798.4" y="673.8" width="46.0" height="23.0"/></clipPath><g clip-path="url(#c33)" fill="#0a0aee" stroke="#0a0aee" stroke-width="2.6" stroke-linejoin="miter"><rect x="1809.9" y="662.3" width="23.0" height="23.0"/></g><g fill="#fff" stroke="#0a0aee" stroke-width="2.6" fill-opacity="0"><rect x="1809.9" y="662.3" width="23.0" height="23.0"/></g>
<clipPath id="c34"><rect x="1817.8" y="645.7" width="46.0" height="23.0"/></clipPath><g clip-path="url(#c34)" fill="#0a0aee" stroke="#0a0aee" stroke-width="2.6" stroke-linejoin="miter"><rect x="1829.3" y="634.2" width="23.0" height="23.0"/></g><g fill="#fff" stroke="#0a0aee" stroke-width="2.6" fill-opacity="0"><rect x="1829.3" y="634.2" width="23.0" height="23.0"/></g>
<clipPath id="c35"><rect x="1380.3" y="1221.2" width="23.0" height="46.0"/></clipPath><g clip-path="url(#c35)" fill="#14e614" stroke="#14e614" stroke-width="2.6" stroke-linejoin="miter"><rect x="1368.8" y="1232.7" width="23.0" height="23.0"/></g><g fill="#fff" stroke="#14e614" stroke-width="2.6" fill-opacity="0"><rect x="1368.8" y="1232.7" width="23.0" height="23.0"/></g>
<clipPath id="c36"><rect x="1396.0" y="1215.4" width="23.0" height="46.0"/></clipPath><g clip-path="url(#c36)" fill="#14e614" stroke="#14e614" stroke-width="2.6" stroke-linejoin="miter"><rect x="1384.5" y="1226.9" width="23.0" height="23.0"/></g><g fill="#fff" stroke="#14e614" stroke-width="2.6" fill-opacity="0"><rect x="1384.5" y="1226.9" width="23.0" height="23.0"/></g>
<clipPath id="c37"><rect x="1417.2" y="1201.4" width="23.0" height="46.0"/></clipPath><g clip-path="url(#c37)" fill="#14e614" stroke="#14e614" stroke-width="2.6" stroke-linejoin="miter"><rect x="1405.7" y="1212.9" width="23.0" height="23.0"/></g><g fill="#fff" stroke="#14e614" stroke-width="2.6" fill-opacity="0"><rect x="1405.7" y="1212.9" width="23.0" height="23.0"/></g>
<clipPath id="c38"><rect x="1435.0" y="1191.2" width="23.0" height="46.0"/></clipPath><g clip-path="url(#c38)" fill="#14e614" stroke="#14e614" stroke-width="2.6" stroke-linejoin="miter"><rect x="1423.5" y="1202.7" width="23.0" height="23.0"/></g><g fill="#fff" stroke="#14e614" stroke-width="2.6" fill-opacity="0"><rect x="1423.5" y="1202.7" width="23.0" height="23.0"/></g>
<clipPath id="c39"><rect x="1446.2" y="1188.2" width="23.0" height="46.0"/></clipPath><g clip-path="url(#c39)" fill="#14e614" stroke="#14e614" stroke-width="2.6" stroke-linejoin="miter"><rect x="1434.7" y="1199.7" width="23.0" height="23.0"/></g><g fill="#fff" stroke="#14e614" stroke-width="2.6" fill-opacity="0"><rect x="1434.7" y="1199.7" width="23.0" height="23.0"/></g>
<clipPath id="c40"><rect x="1464.0" y="1175.0" width="23.0" height="46.0"/></clipPath><g clip-path="url(#c40)" fill="#14e614" stroke="#14e614" stroke-width="2.6" stroke-linejoin="miter"><rect x="1452.5" y="1186.5" width="23.0" height="23.0"/></g><g fill="#fff" stroke="#14e614" stroke-width="2.6" fill-opacity="0"><rect x="1452.5" y="1186.5" width="23.0" height="23.0"/></g>
<clipPath id="c41"><rect x="1485.7" y="1155.3" width="23.0" height="46.0"/></clipPath><g clip-path="url(#c41)" fill="#14e614" stroke="#14e614" stroke-width="2.6" stroke-linejoin="miter"><rect x="1474.2" y="1166.8" width="23.0" height="23.0"/></g><g fill="#fff" stroke="#14e614" stroke-width="2.6" fill-opacity="0"><rect x="1474.2" y="1166.8" width="23.0" height="23.0"/></g>
<clipPath id="c42"><rect x="1509.4" y="1138.2" width="23.0" height="46.0"/></clipPath><g clip-path="url(#c42)" fill="#14e614" stroke="#14e614" stroke-width="2.6" stroke-linejoin="miter"><rect x="1497.9" y="1149.7" width="23.0" height="23.0"/></g><g fill="#fff" stroke="#14e614" stroke-width="2.6" fill-opacity="0"><rect x="1497.9" y="1149.7" width="23.0" height="23.0"/></g>
<clipPath id="c43"><rect x="1535.8" y="1117.1" width="23.0" height="46.0"/></clipPath><g clip-path="url(#c43)" fill="#14e614" stroke="#14e614" stroke-width="2.6" stroke-linejoin="miter"><rect x="1524.3" y="1128.6" width="23.0" height="23.0"/></g><g fill="#fff" stroke="#14e614" stroke-width="2.6" fill-opacity="0"><rect x="1524.3" y="1128.6" width="23.0" height="23.0"/></g>
<clipPath id="c44"><rect x="1559.5" y="1098.7" width="23.0" height="46.0"/></clipPath><g clip-path="url(#c44)" fill="#14e614" stroke="#14e614" stroke-width="2.6" stroke-linejoin="miter"><rect x="1548.0" y="1110.2" width="23.0" height="23.0"/></g><g fill="#fff" stroke="#14e614" stroke-width="2.6" fill-opacity="0"><rect x="1548.0" y="1110.2" width="23.0" height="23.0"/></g>
<clipPath id="c45"><rect x="1584.5" y="1072.3" width="23.0" height="46.0"/></clipPath><g clip-path="url(#c45)" fill="#14e614" stroke="#14e614" stroke-width="2.6" stroke-linejoin="miter"><rect x="1573.0" y="1083.8" width="23.0" height="23.0"/></g><g fill="#fff" stroke="#14e614" stroke-width="2.6" fill-opacity="0"><rect x="1573.0" y="1083.8" width="23.0" height="23.0"/></g>
<clipPath id="c46"><rect x="1604.3" y="1053.9" width="23.0" height="46.0"/></clipPath><g clip-path="url(#c46)" fill="#14e614" stroke="#14e614" stroke-width="2.6" stroke-linejoin="miter"><rect x="1592.8" y="1065.4" width="23.0" height="23.0"/></g><g fill="#fff" stroke="#14e614" stroke-width="2.6" fill-opacity="0"><rect x="1592.8" y="1065.4" width="23.0" height="23.0"/></g>
<clipPath id="c47"><rect x="1623.0" y="1029.2" width="23.0" height="46.0"/></clipPath><g clip-path="url(#c47)" fill="#14e614" stroke="#14e614" stroke-width="2.6" stroke-linejoin="miter"><rect x="1611.5" y="1040.7" width="23.0" height="23.0"/></g><g fill="#fff" stroke="#14e614" stroke-width="2.6" fill-opacity="0"><rect x="1611.5" y="1040.7" width="23.0" height="23.0"/></g>
<clipPath id="c48"><rect x="1642.7" y="996.3" width="23.0" height="46.0"/></clipPath><g clip-path="url(#c48)" fill="#14e614" stroke="#14e614" stroke-width="2.6" stroke-linejoin="miter"><rect x="1631.2" y="1007.8" width="23.0" height="23.0"/></g><g fill="#fff" stroke="#14e614" stroke-width="2.6" fill-opacity="0"><rect x="1631.2" y="1007.8" width="23.0" height="23.0"/></g>
<clipPath id="c49"><rect x="1655.8" y="980.5" width="23.0" height="46.0"/></clipPath><g clip-path="url(#c49)" fill="#14e614" stroke="#14e614" stroke-width="2.6" stroke-linejoin="miter"><rect x="1644.3" y="992.0" width="23.0" height="23.0"/></g><g fill="#fff" stroke="#14e614" stroke-width="2.6" fill-opacity="0"><rect x="1644.3" y="992.0" width="23.0" height="23.0"/></g>
<clipPath id="c50"><rect x="1678.2" y="950.2" width="23.0" height="46.0"/></clipPath><g clip-path="url(#c50)" fill="#14e614" stroke="#14e614" stroke-width="2.6" stroke-linejoin="miter"><rect x="1666.7" y="961.7" width="23.0" height="23.0"/></g><g fill="#fff" stroke="#14e614" stroke-width="2.6" fill-opacity="0"><rect x="1666.7" y="961.7" width="23.0" height="23.0"/></g>
<clipPath id="c51"><rect x="1359.3" y="1186.3" width="23.0" height="46.0"/></clipPath><g clip-path="url(#c51)" fill="#2eeaea" stroke="#2eeaea" stroke-width="2.6" stroke-linejoin="miter"><rect x="1370.8" y="1197.8" width="23.0" height="23.0"/></g><g fill="#fff" stroke="#2eeaea" stroke-width="2.6" fill-opacity="0"><rect x="1370.8" y="1197.8" width="23.0" height="23.0"/></g>
<clipPath id="c52"><rect x="1388.0" y="1167.0" width="23.0" height="46.0"/></clipPath><g clip-path="url(#c52)" fill="#2eeaea" stroke="#2eeaea" stroke-width="2.6" stroke-linejoin="miter"><rect x="1399.5" y="1178.5" width="23.0" height="23.0"/></g><g fill="#fff" stroke="#2eeaea" stroke-width="2.6" fill-opacity="0"><rect x="1399.5" y="1178.5" width="23.0" height="23.0"/></g>
<clipPath id="c53"><rect x="1416.8" y="1148.7" width="23.0" height="46.0"/></clipPath><g clip-path="url(#c53)" fill="#2eeaea" stroke="#2eeaea" stroke-width="2.6" stroke-linejoin="miter"><rect x="1428.3" y="1160.2" width="23.0" height="23.0"/></g><g fill="#fff" stroke="#2eeaea" stroke-width="2.6" fill-opacity="0"><rect x="1428.3" y="1160.2" width="23.0" height="23.0"/></g>
<clipPath id="c54"><rect x="1461.5" y="1115.8" width="23.0" height="46.0"/></clipPath><g clip-path="url(#c54)" fill="#2eeaea" stroke="#2eeaea" stroke-width="2.6" stroke-linejoin="miter"><rect x="1473.0" y="1127.3" width="23.0" height="23.0"/></g><g fill="#fff" stroke="#2eeaea" stroke-width="2.6" fill-opacity="0"><rect x="1473.0" y="1127.3" width="23.0" height="23.0"/></g>
<clipPath id="c55"><rect x="1500.0" y="1075.4" width="23.0" height="46.0"/></clipPath><g clip-path="url(#c55)" fill="#2eeaea" stroke="#2eeaea" stroke-width="2.6" stroke-linejoin="miter"><rect x="1511.5" y="1086.9" width="23.0" height="23.0"/></g><g fill="#fff" stroke="#2eeaea" stroke-width="2.6" fill-opacity="0"><rect x="1511.5" y="1086.9" width="23.0" height="23.0"/></g>
<clipPath id="c56"><rect x="1518.3" y="1068.8" width="23.0" height="46.0"/></clipPath><g clip-path="url(#c56)" fill="#2eeaea" stroke="#2eeaea" stroke-width="2.6" stroke-linejoin="miter"><rect x="1529.8" y="1080.3" width="23.0" height="23.0"/></g><g fill="#fff" stroke="#2eeaea" stroke-width="2.6" fill-opacity="0"><rect x="1529.8" y="1080.3" width="23.0" height="23.0"/></g>
<clipPath id="c57"><rect x="1544.5" y="1036.8" width="23.0" height="46.0"/></clipPath><g clip-path="url(#c57)" fill="#2eeaea" stroke="#2eeaea" stroke-width="2.6" stroke-linejoin="miter"><rect x="1556.0" y="1048.3" width="23.0" height="23.0"/></g><g fill="#fff" stroke="#2eeaea" stroke-width="2.6" fill-opacity="0"><rect x="1556.0" y="1048.3" width="23.0" height="23.0"/></g>
<clipPath id="c58"><rect x="1563.0" y="1010.8" width="23.0" height="46.0"/></clipPath><g clip-path="url(#c58)" fill="#2eeaea" stroke="#2eeaea" stroke-width="2.6" stroke-linejoin="miter"><rect x="1574.5" y="1022.3" width="23.0" height="23.0"/></g><g fill="#fff" stroke="#2eeaea" stroke-width="2.6" fill-opacity="0"><rect x="1574.5" y="1022.3" width="23.0" height="23.0"/></g>
<clipPath id="c59"><rect x="1579.0" y="992.3" width="23.0" height="46.0"/></clipPath><g clip-path="url(#c59)" fill="#2eeaea" stroke="#2eeaea" stroke-width="2.6" stroke-linejoin="miter"><rect x="1590.5" y="1003.8" width="23.0" height="23.0"/></g><g fill="#fff" stroke="#2eeaea" stroke-width="2.6" fill-opacity="0"><rect x="1590.5" y="1003.8" width="23.0" height="23.0"/></g>
<clipPath id="c60"><rect x="1594.8" y="963.4" width="23.0" height="46.0"/></clipPath><g clip-path="url(#c60)" fill="#2eeaea" stroke="#2eeaea" stroke-width="2.6" stroke-linejoin="miter"><rect x="1606.3" y="974.9" width="23.0" height="23.0"/></g><g fill="#fff" stroke="#2eeaea" stroke-width="2.6" fill-opacity="0"><rect x="1606.3" y="974.9" width="23.0" height="23.0"/></g>
<clipPath id="c61"><rect x="1623.0" y="927.0" width="23.0" height="46.0"/></clipPath><g clip-path="url(#c61)" fill="#2eeaea" stroke="#2eeaea" stroke-width="2.6" stroke-linejoin="miter"><rect x="1634.5" y="938.5" width="23.0" height="23.0"/></g><g fill="#fff" stroke="#2eeaea" stroke-width="2.6" fill-opacity="0"><rect x="1634.5" y="938.5" width="23.0" height="23.0"/></g>
<clipPath id="c62"><rect x="1651.0" y="882.0" width="23.0" height="46.0"/></clipPath><g clip-path="url(#c62)" fill="#2eeaea" stroke="#2eeaea" stroke-width="2.6" stroke-linejoin="miter"><rect x="1662.5" y="893.5" width="23.0" height="23.0"/></g><g fill="#fff" stroke="#2eeaea" stroke-width="2.6" fill-opacity="0"><rect x="1662.5" y="893.5" width="23.0" height="23.0"/></g>
<clipPath id="c63"><rect x="1688.0" y="827.0" width="23.0" height="46.0"/></clipPath><g clip-path="url(#c63)" fill="#2eeaea" stroke="#2eeaea" stroke-width="2.6" stroke-linejoin="miter"><rect x="1699.5" y="838.5" width="23.0" height="23.0"/></g><g fill="#fff" stroke="#2eeaea" stroke-width="2.6" fill-opacity="0"><rect x="1699.5" y="838.5" width="23.0" height="23.0"/></g>
<clipPath id="c64"><rect x="1718.0" y="767.0" width="23.0" height="46.0"/></clipPath><g clip-path="url(#c64)" fill="#2eeaea" stroke="#2eeaea" stroke-width="2.6" stroke-linejoin="miter"><rect x="1729.5" y="778.5" width="23.0" height="23.0"/></g><g fill="#fff" stroke="#2eeaea" stroke-width="2.6" fill-opacity="0"><rect x="1729.5" y="778.5" width="23.0" height="23.0"/></g>
<clipPath id="c65"><rect x="1750.5" y="715.0" width="23.0" height="46.0"/></clipPath><g clip-path="url(#c65)" fill="#2eeaea" stroke="#2eeaea" stroke-width="2.6" stroke-linejoin="miter"><rect x="1762.0" y="726.5" width="23.0" height="23.0"/></g><g fill="#fff" stroke="#2eeaea" stroke-width="2.6" fill-opacity="0"><rect x="1762.0" y="726.5" width="23.0" height="23.0"/></g>
<g fill="none" stroke="#555" stroke-width="2.6"><rect x="1778.5" y="688.5" width="23.0" height="23.0"/></g>
<g fill="none" stroke="#555" stroke-width="2.6"><rect x="1803.5" y="648.5" width="23.0" height="23.0"/></g>
<g fill="none" stroke="#555" stroke-width="2.6"><rect x="1830.8" y="607.8" width="23.0" height="23.0"/></g>
<g fill="none" stroke="#555" stroke-width="2.6"><rect x="1847.5" y="579.0" width="23.0" height="23.0"/></g>
<g fill="none" stroke="#555" stroke-width="2.6"><rect x="1857.1" y="555.1" width="23.0" height="23.0"/></g>
<g fill="none" stroke="#555" stroke-width="2.6"><rect x="1861.9" y="519.2" width="23.0" height="23.0"/></g>
<g fill="none" stroke="#555" stroke-width="2.6"><rect x="1876.3" y="485.6" width="23.0" height="23.0"/></g>
<g fill="none" stroke="#555" stroke-width="2.6"><rect x="1883.5" y="454.5" width="23.0" height="23.0"/></g>
<g fill="none" stroke="#555" stroke-width="2.6"><rect x="1902.6" y="418.6" width="23.0" height="23.0"/></g>
<g fill="none" stroke="#555" stroke-width="2.6"><rect x="1917.0" y="382.6" width="23.0" height="23.0"/></g>
<clipPath id="c66"><rect x="709.0" y="1367.3" width="20.0" height="40.0"/></clipPath><g clip-path="url(#c66)" fill="#2eeaea" stroke="#2eeaea" stroke-width="2.5" stroke-linejoin="miter"><polygon points="729.0,1377.3 740.6,1397.3 717.4,1397.3"/></g><g fill="#fff" stroke="#2eeaea" stroke-width="2.5" fill-opacity="0"><polygon points="729.0,1377.3 740.6,1397.3 717.4,1397.3"/></g>
<clipPath id="c67"><rect x="770.0" y="1362.0" width="20.0" height="40.0"/></clipPath><g clip-path="url(#c67)" fill="#2eeaea" stroke="#2eeaea" stroke-width="2.5" stroke-linejoin="miter"><polygon points="790.0,1372.0 801.6,1392.0 778.4,1392.0"/></g><g fill="#fff" stroke="#2eeaea" stroke-width="2.5" fill-opacity="0"><polygon points="790.0,1372.0 801.6,1392.0 778.4,1392.0"/></g>
<clipPath id="c68"><rect x="804.0" y="1358.5" width="20.0" height="40.0"/></clipPath><g clip-path="url(#c68)" fill="#2eeaea" stroke="#2eeaea" stroke-width="2.5" stroke-linejoin="miter"><polygon points="824.0,1368.5 835.6,1388.5 812.4,1388.5"/></g><g fill="#fff" stroke="#2eeaea" stroke-width="2.5" fill-opacity="0"><polygon points="824.0,1368.5 835.6,1388.5 812.4,1388.5"/></g>
<clipPath id="c69"><rect x="838.0" y="1354.7" width="20.0" height="40.0"/></clipPath><g clip-path="url(#c69)" fill="#2eeaea" stroke="#2eeaea" stroke-width="2.5" stroke-linejoin="miter"><polygon points="858.0,1364.7 869.6,1384.7 846.4,1384.7"/></g><g fill="#fff" stroke="#2eeaea" stroke-width="2.5" fill-opacity="0"><polygon points="858.0,1364.7 869.6,1384.7 846.4,1384.7"/></g>
<clipPath id="c70"><rect x="875.0" y="1350.0" width="20.0" height="40.0"/></clipPath><g clip-path="url(#c70)" fill="#2eeaea" stroke="#2eeaea" stroke-width="2.5" stroke-linejoin="miter"><polygon points="895.0,1360.0 906.6,1380.0 883.4,1380.0"/></g><g fill="#fff" stroke="#2eeaea" stroke-width="2.5" fill-opacity="0"><polygon points="895.0,1360.0 906.6,1380.0 883.4,1380.0"/></g>
<clipPath id="c71"><rect x="901.0" y="1346.4" width="20.0" height="40.0"/></clipPath><g clip-path="url(#c71)" fill="#2eeaea" stroke="#2eeaea" stroke-width="2.5" stroke-linejoin="miter"><polygon points="921.0,1356.4 932.6,1376.4 909.4,1376.4"/></g><g fill="#fff" stroke="#2eeaea" stroke-width="2.5" fill-opacity="0"><polygon points="921.0,1356.4 932.6,1376.4 909.4,1376.4"/></g>
<clipPath id="c72"><rect x="940.0" y="1340.4" width="20.0" height="40.0"/></clipPath><g clip-path="url(#c72)" fill="#2eeaea" stroke="#2eeaea" stroke-width="2.5" stroke-linejoin="miter"><polygon points="960.0,1350.4 971.6,1370.4 948.4,1370.4"/></g><g fill="#fff" stroke="#2eeaea" stroke-width="2.5" fill-opacity="0"><polygon points="960.0,1350.4 971.6,1370.4 948.4,1370.4"/></g>
<clipPath id="c73"><rect x="969.0" y="1335.4" width="20.0" height="40.0"/></clipPath><g clip-path="url(#c73)" fill="#2eeaea" stroke="#2eeaea" stroke-width="2.5" stroke-linejoin="miter"><polygon points="989.0,1345.4 1000.6,1365.4 977.4,1365.4"/></g><g fill="#fff" stroke="#2eeaea" stroke-width="2.5" fill-opacity="0"><polygon points="989.0,1345.4 1000.6,1365.4 977.4,1365.4"/></g>
<clipPath id="c74"><rect x="1006.0" y="1328.4" width="20.0" height="40.0"/></clipPath><g clip-path="url(#c74)" fill="#2eeaea" stroke="#2eeaea" stroke-width="2.5" stroke-linejoin="miter"><polygon points="1026.0,1338.4 1037.6,1358.4 1014.4,1358.4"/></g><g fill="#fff" stroke="#2eeaea" stroke-width="2.5" fill-opacity="0"><polygon points="1026.0,1338.4 1037.6,1358.4 1014.4,1358.4"/></g>
<clipPath id="c75"><rect x="1040.0" y="1321.1" width="20.0" height="40.0"/></clipPath><g clip-path="url(#c75)" fill="#2eeaea" stroke="#2eeaea" stroke-width="2.5" stroke-linejoin="miter"><polygon points="1060.0,1331.1 1071.6,1351.1 1048.4,1351.1"/></g><g fill="#fff" stroke="#2eeaea" stroke-width="2.5" fill-opacity="0"><polygon points="1060.0,1331.1 1071.6,1351.1 1048.4,1351.1"/></g>
<clipPath id="c76"><rect x="740.0" y="1376.7" width="20.0" height="40.0"/></clipPath><g clip-path="url(#c76)" fill="#2eeaea" stroke="#2eeaea" stroke-width="2.5" stroke-linejoin="miter"><polygon points="760.0,1386.7 771.6,1406.7 748.4,1406.7"/></g><g fill="#fff" stroke="#2eeaea" stroke-width="2.5" fill-opacity="0"><polygon points="760.0,1386.7 771.6,1406.7 748.4,1406.7"/></g>
<clipPath id="c77"><rect x="830.0" y="1367.6" width="20.0" height="40.0"/></clipPath><g clip-path="url(#c77)" fill="#2eeaea" stroke="#2eeaea" stroke-width="2.5" stroke-linejoin="miter"><polygon points="850.0,1377.6 861.6,1397.6 838.4,1397.6"/></g><g fill="#fff" stroke="#2eeaea" stroke-width="2.5" fill-opacity="0"><polygon points="850.0,1377.6 861.6,1397.6 838.4,1397.6"/></g>
<clipPath id="c78"><rect x="915.0" y="1356.3" width="20.0" height="40.0"/></clipPath><g clip-path="url(#c78)" fill="#2eeaea" stroke="#2eeaea" stroke-width="2.5" stroke-linejoin="miter"><polygon points="935.0,1366.3 946.6,1386.3 923.4,1386.3"/></g><g fill="#fff" stroke="#2eeaea" stroke-width="2.5" fill-opacity="0"><polygon points="935.0,1366.3 946.6,1386.3 923.4,1386.3"/></g>
<clipPath id="c79"><rect x="980.0" y="1345.4" width="20.0" height="40.0"/></clipPath><g clip-path="url(#c79)" fill="#2eeaea" stroke="#2eeaea" stroke-width="2.5" stroke-linejoin="miter"><polygon points="1000.0,1355.4 1011.6,1375.4 988.4,1375.4"/></g><g fill="#fff" stroke="#2eeaea" stroke-width="2.5" fill-opacity="0"><polygon points="1000.0,1355.4 1011.6,1375.4 988.4,1375.4"/></g>
<clipPath id="c80"><rect x="870.0" y="1358.2" width="20.0" height="40.0"/></clipPath><g clip-path="url(#c80)" fill="#14e614" stroke="#14e614" stroke-width="2.5" stroke-linejoin="miter"><polygon points="870.0,1368.2 881.6,1388.2 858.4,1388.2"/></g><g fill="#fff" stroke="#14e614" stroke-width="2.5" fill-opacity="0"><polygon points="870.0,1368.2 881.6,1388.2 858.4,1388.2"/></g>
<clipPath id="c81"><rect x="940.0" y="1348.6" width="20.0" height="40.0"/></clipPath><g clip-path="url(#c81)" fill="#14e614" stroke="#14e614" stroke-width="2.5" stroke-linejoin="miter"><polygon points="940.0,1358.6 951.6,1378.6 928.4,1378.6"/></g><g fill="#fff" stroke="#14e614" stroke-width="2.5" fill-opacity="0"><polygon points="940.0,1358.6 951.6,1378.6 928.4,1378.6"/></g>
<clipPath id="c82"><rect x="1005.0" y="1337.5" width="20.0" height="40.0"/></clipPath><g clip-path="url(#c82)" fill="#14e614" stroke="#14e614" stroke-width="2.5" stroke-linejoin="miter"><polygon points="1005.0,1347.5 1016.6,1367.5 993.4,1367.5"/></g><g fill="#fff" stroke="#14e614" stroke-width="2.5" fill-opacity="0"><polygon points="1005.0,1347.5 1016.6,1367.5 993.4,1367.5"/></g>
<clipPath id="c83"><rect x="1045.0" y="1329.4" width="20.0" height="40.0"/></clipPath><g clip-path="url(#c83)" fill="#14e614" stroke="#14e614" stroke-width="2.5" stroke-linejoin="miter"><polygon points="1045.0,1339.4 1056.6,1359.4 1033.4,1359.4"/></g><g fill="#fff" stroke="#14e614" stroke-width="2.5" fill-opacity="0"><polygon points="1045.0,1339.4 1056.6,1359.4 1033.4,1359.4"/></g>
<clipPath id="c84"><rect x="680.0" y="1374.5" width="40.0" height="20.0"/></clipPath><g clip-path="url(#c84)" fill="#ff0a0a" stroke="#ff0a0a" stroke-width="2.5" stroke-linejoin="miter"><polygon points="700.0,1384.5 711.6,1404.5 688.4,1404.5"/></g><g fill="#fff" stroke="#ff0a0a" stroke-width="2.5" fill-opacity="0"><polygon points="700.0,1384.5 711.6,1404.5 688.4,1404.5"/></g>
<clipPath id="c85"><rect x="785.0" y="1365.5" width="40.0" height="20.0"/></clipPath><g clip-path="url(#c85)" fill="#ff0a0a" stroke="#ff0a0a" stroke-width="2.5" stroke-linejoin="miter"><polygon points="805.0,1375.5 816.6,1395.5 793.4,1395.5"/></g><g fill="#fff" stroke="#ff0a0a" stroke-width="2.5" fill-opacity="0"><polygon points="805.0,1375.5 816.6,1395.5 793.4,1395.5"/></g>
<clipPath id="c86"><rect x="890.0" y="1353.0" width="40.0" height="20.0"/></clipPath><g clip-path="url(#c86)" fill="#ff0a0a" stroke="#ff0a0a" stroke-width="2.5" stroke-linejoin="miter"><polygon points="910.0,1363.0 921.6,1383.0 898.4,1383.0"/></g><g fill="#fff" stroke="#ff0a0a" stroke-width="2.5" fill-opacity="0"><polygon points="910.0,1363.0 921.6,1383.0 898.4,1383.0"/></g>
<clipPath id="c87"><rect x="1015.0" y="1331.5" width="40.0" height="20.0"/></clipPath><g clip-path="url(#c87)" fill="#ff0a0a" stroke="#ff0a0a" stroke-width="2.5" stroke-linejoin="miter"><polygon points="1035.0,1341.5 1046.6,1361.5 1023.4,1361.5"/></g><g fill="#fff" stroke="#ff0a0a" stroke-width="2.5" fill-opacity="0"><polygon points="1035.0,1341.5 1046.6,1361.5 1023.4,1361.5"/></g>
<clipPath id="c88"><rect x="748.0" y="1380.0" width="40.0" height="20.0"/></clipPath><g clip-path="url(#c88)" fill="#0a0aee" stroke="#0a0aee" stroke-width="2.5" stroke-linejoin="miter"><polygon points="768.0,1370.0 779.6,1390.0 756.4,1390.0"/></g><g fill="#fff" stroke="#0a0aee" stroke-width="2.5" fill-opacity="0"><polygon points="768.0,1370.0 779.6,1390.0 756.4,1390.0"/></g>
<clipPath id="c89"><rect x="960.0" y="1353.0" width="40.0" height="20.0"/></clipPath><g clip-path="url(#c89)" fill="#0a0aee" stroke="#0a0aee" stroke-width="2.5" stroke-linejoin="miter"><polygon points="980.0,1343.0 991.6,1363.0 968.4,1363.0"/></g><g fill="#fff" stroke="#0a0aee" stroke-width="2.5" fill-opacity="0"><polygon points="980.0,1343.0 991.6,1363.0 968.4,1363.0"/></g>
<g fill="none" stroke="#555" stroke-width="2.6"><polygon points="959.0,1397.9 973.5,1372.9 944.5,1372.9"/></g>
<g fill="none" stroke="#555" stroke-width="2.6"><polygon points="983.9,1393.4 998.4,1368.4 969.4,1368.4"/></g>
<g fill="none" stroke="#555" stroke-width="2.6"><polygon points="1009.9,1393.4 1024.4,1368.4 995.4,1368.4"/></g>
<g fill="none" stroke="#555" stroke-width="2.6"><polygon points="1063.0,1377.5 1077.5,1352.5 1048.5,1352.5"/></g>
<g fill="none" stroke="#555" stroke-width="2.6"><polygon points="1076.6,1380.9 1091.1,1355.9 1062.1,1355.9"/></g>
<g fill="none" stroke="#555" stroke-width="2.6"><polygon points="1255.2,1316.5 1269.7,1291.5 1240.7,1291.5"/></g>
<g fill="none" stroke="#555" stroke-width="2.6"><polygon points="1316.2,1312.0 1330.7,1287.0 1301.7,1287.0"/></g>
<g fill="none" stroke="#555" stroke-width="2.6"><polygon points="1338.8,1282.6 1353.3,1257.6 1324.3,1257.6"/></g>
<g fill="none" stroke="#555" stroke-width="2.6"><polygon points="1379.5,1271.3 1394.0,1246.3 1365.0,1246.3"/></g>
<g fill="none" stroke="#555" stroke-width="2.6"><polygon points="1470.0,1221.8 1484.5,1196.8 1455.5,1196.8"/></g>
<clipPath id="c90"><rect x="1111.9" y="1324.7" width="56.0" height="28.0"/></clipPath><g clip-path="url(#c90)" fill="#ff0a0a" stroke="#ff0a0a" stroke-width="2.6" stroke-linejoin="miter"><polygon points="1139.9,1366.7 1156.1,1338.7 1123.7,1338.7"/></g><g fill="#fff" stroke="#ff0a0a" stroke-width="2.6" fill-opacity="0"><polygon points="1139.9,1366.7 1156.1,1338.7 1123.7,1338.7"/></g>
<clipPath id="c91"><rect x="1265.6" y="1279.5" width="56.0" height="28.0"/></clipPath><g clip-path="url(#c91)" fill="#ff0a0a" stroke="#ff0a0a" stroke-width="2.6" stroke-linejoin="miter"><polygon points="1293.6,1321.5 1309.8,1293.5 1277.4,1293.5"/></g><g fill="#fff" stroke="#ff0a0a" stroke-width="2.6" fill-opacity="0"><polygon points="1293.6,1321.5 1309.8,1293.5 1277.4,1293.5"/></g>
<clipPath id="c92"><rect x="1371.8" y="1220.7" width="56.0" height="28.0"/></clipPath><g clip-path="url(#c92)" fill="#ff0a0a" stroke="#ff0a0a" stroke-width="2.6" stroke-linejoin="miter"><polygon points="1399.8,1262.7 1416.0,1234.7 1383.6,1234.7"/></g><g fill="#fff" stroke="#ff0a0a" stroke-width="2.6" fill-opacity="0"><polygon points="1399.8,1262.7 1416.0,1234.7 1383.6,1234.7"/></g>
<clipPath id="c93"><rect x="1798.2" y="699.8" width="56.0" height="28.0"/></clipPath><g clip-path="url(#c93)" fill="#ff0a0a" stroke="#ff0a0a" stroke-width="2.6" stroke-linejoin="miter"><polygon points="1826.2,741.8 1842.4,713.8 1810.0,713.8"/></g><g fill="#fff" stroke="#ff0a0a" stroke-width="2.6" fill-opacity="0"><polygon points="1826.2,741.8 1842.4,713.8 1810.0,713.8"/></g>
<clipPath id="c94"><rect x="1827.0" y="674.9" width="56.0" height="28.0"/></clipPath><g clip-path="url(#c94)" fill="#ff0a0a" stroke="#ff0a0a" stroke-width="2.6" stroke-linejoin="miter"><polygon points="1855.0,716.9 1871.2,688.9 1838.8,688.9"/></g><g fill="#fff" stroke="#ff0a0a" stroke-width="2.6" fill-opacity="0"><polygon points="1855.0,716.9 1871.2,688.9 1838.8,688.9"/></g>
<g fill="none" stroke="#e8707a" stroke-width="2.6"><circle cx="1108.2" cy="1326.0" r="15.5"/></g>
<g fill="none" stroke="#e8707a" stroke-width="2.6"><circle cx="1153.4" cy="1294.4" r="15.5"/></g>
<g fill="none" stroke="#e8707a" stroke-width="2.6"><circle cx="1200.9" cy="1285.4" r="15.5"/></g>
<g fill="none" stroke="#e8707a" stroke-width="2.6"><circle cx="1262.0" cy="1265.0" r="15.5"/></g>
<g fill="none" stroke="#e8707a" stroke-width="2.6"><circle cx="1289.0" cy="1244.7" r="15.5"/></g>
<g fill="none" stroke="#e8707a" stroke-width="2.6"><circle cx="1356.9" cy="1201.7" r="15.5"/></g>
<g fill="none" stroke="#e8707a" stroke-width="2.6"><circle cx="1420.2" cy="1158.8" r="15.5"/></g>
<g fill="none" stroke="#555" stroke-width="2.6"><polygon points="1555.0,1129.2 1558.9,1140.6 1571.0,1140.8 1561.4,1148.1 1564.9,1159.6 1555.0,1152.7 1545.1,1159.6 1548.6,1148.1 1539.0,1140.8 1551.1,1140.6"/></g>
<g fill="none" stroke="#555" stroke-width="2.6"><polygon points="1609.6,1080.2 1613.5,1091.6 1625.6,1091.8 1616.0,1099.1 1619.5,1110.6 1609.6,1103.7 1599.7,1110.6 1603.2,1099.1 1593.6,1091.8 1605.7,1091.6"/></g>
<g fill="none" stroke="#555" stroke-width="2.6"><polygon points="1637.5,1053.2 1641.4,1064.6 1653.5,1064.8 1643.9,1072.1 1647.4,1083.6 1637.5,1076.7 1627.6,1083.6 1631.1,1072.1 1621.5,1064.8 1633.6,1064.6"/></g>
<g fill="none" stroke="#555" stroke-width="2.6"><polygon points="1669.5,1029.2 1673.4,1040.6 1685.5,1040.8 1675.9,1048.1 1679.4,1059.6 1669.5,1052.7 1659.6,1059.6 1663.1,1048.1 1653.5,1040.8 1665.6,1040.6"/></g>
<g fill="none" stroke="#555" stroke-width="2.6"><polygon points="1708.4,950.6 1712.3,962.0 1724.4,962.2 1714.8,969.5 1718.3,981.0 1708.4,974.1 1698.5,981.0 1702.0,969.5 1692.4,962.2 1704.5,962.0"/></g>
<g fill="none" stroke="#555" stroke-width="2.6"><polygon points="1732.5,914.7 1736.4,926.1 1748.5,926.3 1738.9,933.6 1742.4,945.1 1732.5,938.2 1722.6,945.1 1726.1,933.6 1716.5,926.3 1728.6,926.1"/></g>
<clipPath id="c95"><rect x="1094.0" y="1302.0" width="56.0" height="28.0"/></clipPath><g clip-path="url(#c95)" fill="#ff0a0a" stroke="#ff0a0a" stroke-width="2.6" stroke-linejoin="miter"><polygon points="1122.0,1313.2 1125.9,1324.6 1138.0,1324.8 1128.4,1332.1 1131.9,1343.6 1122.0,1336.7 1112.1,1343.6 1115.6,1332.1 1106.0,1324.8 1118.1,1324.6"/></g><g fill="#fff" stroke="#ff0a0a" stroke-width="2.6" fill-opacity="0"><polygon points="1122.0,1313.2 1125.9,1324.6 1138.0,1324.8 1128.4,1332.1 1131.9,1343.6 1122.0,1336.7 1112.1,1343.6 1115.6,1332.1 1106.0,1324.8 1118.1,1324.6"/></g>
<clipPath id="c96"><rect x="1170.5" y="1268.0" width="56.0" height="28.0"/></clipPath><g clip-path="url(#c96)" fill="#ff0a0a" stroke="#ff0a0a" stroke-width="2.6" stroke-linejoin="miter"><polygon points="1198.5,1279.2 1202.4,1290.6 1214.5,1290.8 1204.9,1298.1 1208.4,1309.6 1198.5,1302.7 1188.6,1309.6 1192.1,1298.1 1182.5,1290.8 1194.6,1290.6"/></g><g fill="#fff" stroke="#ff0a0a" stroke-width="2.6" fill-opacity="0"><polygon points="1198.5,1279.2 1202.4,1290.6 1214.5,1290.8 1204.9,1298.1 1208.4,1309.6 1198.5,1302.7 1188.6,1309.6 1192.1,1298.1 1182.5,1290.8 1194.6,1290.6"/></g>
<clipPath id="c97"><rect x="1243.0" y="1244.0" width="56.0" height="28.0"/></clipPath><g clip-path="url(#c97)" fill="#ff0a0a" stroke="#ff0a0a" stroke-width="2.6" stroke-linejoin="miter"><polygon points="1271.0,1255.2 1274.9,1266.6 1287.0,1266.8 1277.4,1274.1 1280.9,1285.6 1271.0,1278.7 1261.1,1285.6 1264.6,1274.1 1255.0,1266.8 1267.1,1266.6"/></g><g fill="#fff" stroke="#ff0a0a" stroke-width="2.6" fill-opacity="0"><polygon points="1271.0,1255.2 1274.9,1266.6 1287.0,1266.8 1277.4,1274.1 1280.9,1285.6 1271.0,1278.7 1261.1,1285.6 1264.6,1274.1 1255.0,1266.8 1267.1,1266.6"/></g>
<clipPath id="c98"><rect x="1275.6" y="1217.7" width="56.0" height="28.0"/></clipPath><g clip-path="url(#c98)" fill="#ff0a0a" stroke="#ff0a0a" stroke-width="2.6" stroke-linejoin="miter"><polygon points="1303.6,1228.9 1307.5,1240.3 1319.6,1240.5 1310.0,1247.8 1313.5,1259.3 1303.6,1252.4 1293.7,1259.3 1297.2,1247.8 1287.6,1240.5 1299.7,1240.3"/></g><g fill="#fff" stroke="#ff0a0a" stroke-width="2.6" fill-opacity="0"><polygon points="1303.6,1228.9 1307.5,1240.3 1319.6,1240.5 1310.0,1247.8 1313.5,1259.3 1303.6,1252.4 1293.7,1259.3 1297.2,1247.8 1287.6,1240.5 1299.7,1240.3"/></g>
<clipPath id="c99"><rect x="1327.3" y="1194.0" width="56.0" height="28.0"/></clipPath><g clip-path="url(#c99)" fill="#ff0a0a" stroke="#ff0a0a" stroke-width="2.6" stroke-linejoin="miter"><polygon points="1355.3,1205.2 1359.2,1216.6 1371.3,1216.8 1361.7,1224.1 1365.2,1235.6 1355.3,1228.7 1345.4,1235.6 1348.9,1224.1 1339.3,1216.8 1351.4,1216.6"/></g><g fill="#fff" stroke="#ff0a0a" stroke-width="2.6" fill-opacity="0"><polygon points="1355.3,1205.2 1359.2,1216.6 1371.3,1216.8 1361.7,1224.1 1365.2,1235.6 1355.3,1228.7 1345.4,1235.6 1348.9,1224.1 1339.3,1216.8 1351.4,1216.6"/></g>
<clipPath id="c100"><rect x="1375.5" y="1160.9" width="56.0" height="28.0"/></clipPath><g clip-path="url(#c100)" fill="#ff0a0a" stroke="#ff0a0a" stroke-width="2.6" stroke-linejoin="miter"><polygon points="1403.5,1172.1 1407.4,1183.5 1419.5,1183.7 1409.9,1191.0 1413.4,1202.5 1403.5,1195.6 1393.6,1202.5 1397.1,1191.0 1387.5,1183.7 1399.6,1183.5"/></g><g fill="#fff" stroke="#ff0a0a" stroke-width="2.6" fill-opacity="0"><polygon points="1403.5,1172.1 1407.4,1183.5 1419.5,1183.7 1409.9,1191.0 1413.4,1202.5 1403.5,1195.6 1393.6,1202.5 1397.1,1191.0 1387.5,1183.7 1399.6,1183.5"/></g>
<clipPath id="c101"><rect x="1424.2" y="1128.0" width="56.0" height="28.0"/></clipPath><g clip-path="url(#c101)" fill="#ff0a0a" stroke="#ff0a0a" stroke-width="2.6" stroke-linejoin="miter"><polygon points="1452.2,1139.2 1456.1,1150.6 1468.2,1150.8 1458.6,1158.1 1462.1,1169.6 1452.2,1162.7 1442.3,1169.6 1445.8,1158.1 1436.2,1150.8 1448.3,1150.6"/></g><g fill="#fff" stroke="#ff0a0a" stroke-width="2.6" fill-opacity="0"><polygon points="1452.2,1139.2 1456.1,1150.6 1468.2,1150.8 1458.6,1158.1 1462.1,1169.6 1452.2,1162.7 1442.3,1169.6 1445.8,1158.1 1436.2,1150.8 1448.3,1150.6"/></g>
<clipPath id="c102"><rect x="1454.5" y="1101.6" width="56.0" height="28.0"/></clipPath><g clip-path="url(#c102)" fill="#ff0a0a" stroke="#ff0a0a" stroke-width="2.6" stroke-linejoin="miter"><polygon points="1482.5,1112.8 1486.4,1124.2 1498.5,1124.4 1488.9,1131.7 1492.4,1143.2 1482.5,1136.3 1472.6,1143.2 1476.1,1131.7 1466.5,1124.4 1478.6,1124.2"/></g><g fill="#fff" stroke="#ff0a0a" stroke-width="2.6" fill-opacity="0"><polygon points="1482.5,1112.8 1486.4,1124.2 1498.5,1124.4 1488.9,1131.7 1492.4,1143.2 1482.5,1136.3 1472.6,1143.2 1476.1,1131.7 1466.5,1124.4 1478.6,1124.2"/></g>
<clipPath id="c103"><rect x="1478.0" y="1092.0" width="56.0" height="28.0"/></clipPath><g clip-path="url(#c103)" fill="#ff0a0a" stroke="#ff0a0a" stroke-width="2.6" stroke-linejoin="miter"><polygon points="1506.0,1103.2 1509.9,1114.6 1522.0,1114.8 1512.4,1122.1 1515.9,1133.6 1506.0,1126.7 1496.1,1133.6 1499.6,1122.1 1490.0,1114.8 1502.1,1114.6"/></g><g fill="#fff" stroke="#ff0a0a" stroke-width="2.6" fill-opacity="0"><polygon points="1506.0,1103.2 1509.9,1114.6 1522.0,1114.8 1512.4,1122.1 1515.9,1133.6 1506.0,1126.7 1496.1,1133.6 1499.6,1122.1 1490.0,1114.8 1502.1,1114.6"/></g>
<clipPath id="c104"><rect x="1516.4" y="1046.3" width="56.0" height="28.0"/></clipPath><g clip-path="url(#c104)" fill="#ff0a0a" stroke="#ff0a0a" stroke-width="2.6" stroke-linejoin="miter"><polygon points="1544.4,1057.5 1548.3,1068.9 1560.4,1069.1 1550.8,1076.4 1554.3,1087.9 1544.4,1081.0 1534.5,1087.9 1538.0,1076.4 1528.4,1069.1 1540.5,1068.9"/></g><g fill="#fff" stroke="#ff0a0a" stroke-width="2.6" fill-opacity="0"><polygon points="1544.4,1057.5 1548.3,1068.9 1560.4,1069.1 1550.8,1076.4 1554.3,1087.9 1544.4,1081.0 1534.5,1087.9 1538.0,1076.4 1528.4,1069.1 1540.5,1068.9"/></g>
<clipPath id="c105"><rect x="1574.5" y="986.0" width="56.0" height="28.0"/></clipPath><g clip-path="url(#c105)" fill="#ff0a0a" stroke="#ff0a0a" stroke-width="2.6" stroke-linejoin="miter"><polygon points="1602.5,997.2 1606.4,1008.6 1618.5,1008.8 1608.9,1016.1 1612.4,1027.6 1602.5,1020.7 1592.6,1027.6 1596.1,1016.1 1586.5,1008.8 1598.6,1008.6"/></g><g fill="#fff" stroke="#ff0a0a" stroke-width="2.6" fill-opacity="0"><polygon points="1602.5,997.2 1606.4,1008.6 1618.5,1008.8 1608.9,1016.1 1612.4,1027.6 1602.5,1020.7 1592.6,1027.6 1596.1,1016.1 1586.5,1008.8 1598.6,1008.6"/></g>
<clipPath id="c106"><rect x="1601.0" y="938.0" width="56.0" height="28.0"/></clipPath><g clip-path="url(#c106)" fill="#ff0a0a" stroke="#ff0a0a" stroke-width="2.6" stroke-linejoin="miter"><polygon points="1629.0,949.2 1632.9,960.6 1645.0,960.8 1635.4,968.1 1638.9,979.6 1629.0,972.7 1619.1,979.6 1622.6,968.1 1613.0,960.8 1625.1,960.6"/></g><g fill="#fff" stroke="#ff0a0a" stroke-width="2.6" fill-opacity="0"><polygon points="1629.0,949.2 1632.9,960.6 1645.0,960.8 1635.4,968.1 1638.9,979.6 1629.0,972.7 1619.1,979.6 1622.6,968.1 1613.0,960.8 1625.1,960.6"/></g>
<clipPath id="c107"><rect x="1653.3" y="862.7" width="56.0" height="28.0"/></clipPath><g clip-path="url(#c107)" fill="#ff0a0a" stroke="#ff0a0a" stroke-width="2.6" stroke-linejoin="miter"><polygon points="1681.3,873.9 1685.2,885.3 1697.3,885.5 1687.7,892.8 1691.2,904.3 1681.3,897.4 1671.4,904.3 1674.9,892.8 1665.3,885.5 1677.4,885.3"/></g><g fill="#fff" stroke="#ff0a0a" stroke-width="2.6" fill-opacity="0"><polygon points="1681.3,873.9 1685.2,885.3 1697.3,885.5 1687.7,892.8 1691.2,904.3 1681.3,897.4 1671.4,904.3 1674.9,892.8 1665.3,885.5 1677.4,885.3"/></g>
<clipPath id="c108"><rect x="1685.6" y="817.4" width="56.0" height="28.0"/></clipPath><g clip-path="url(#c108)" fill="#ff0a0a" stroke="#ff0a0a" stroke-width="2.6" stroke-linejoin="miter"><polygon points="1713.6,828.6 1717.5,840.0 1729.6,840.2 1720.0,847.5 1723.5,859.0 1713.6,852.1 1703.7,859.0 1707.2,847.5 1697.6,840.2 1709.7,840.0"/></g><g fill="#fff" stroke="#ff0a0a" stroke-width="2.6" fill-opacity="0"><polygon points="1713.6,828.6 1717.5,840.0 1729.6,840.2 1720.0,847.5 1723.5,859.0 1713.6,852.1 1703.7,859.0 1707.2,847.5 1697.6,840.2 1709.7,840.0"/></g>
<clipPath id="c109"><rect x="1707.2" y="783.0" width="56.0" height="28.0"/></clipPath><g clip-path="url(#c109)" fill="#ff0a0a" stroke="#ff0a0a" stroke-width="2.6" stroke-linejoin="miter"><polygon points="1735.2,794.2 1739.1,805.6 1751.2,805.8 1741.6,813.1 1745.1,824.6 1735.2,817.7 1725.3,824.6 1728.8,813.1 1719.2,805.8 1731.3,805.6"/></g><g fill="#fff" stroke="#ff0a0a" stroke-width="2.6" fill-opacity="0"><polygon points="1735.2,794.2 1739.1,805.6 1751.2,805.8 1741.6,813.1 1745.1,824.6 1735.2,817.7 1725.3,824.6 1728.8,813.1 1719.2,805.8 1731.3,805.6"/></g>
<clipPath id="c110"><rect x="1733.0" y="771.0" width="56.0" height="28.0"/></clipPath><g clip-path="url(#c110)" fill="#ff0a0a" stroke="#ff0a0a" stroke-width="2.6" stroke-linejoin="miter"><polygon points="1761.0,782.2 1764.9,793.6 1777.0,793.8 1767.4,801.1 1770.9,812.6 1761.0,805.7 1751.1,812.6 1754.6,801.1 1745.0,793.8 1757.1,793.6"/></g><g fill="#fff" stroke="#ff0a0a" stroke-width="2.6" fill-opacity="0"><polygon points="1761.0,782.2 1764.9,793.6 1777.0,793.8 1767.4,801.1 1770.9,812.6 1761.0,805.7 1751.1,812.6 1754.6,801.1 1745.0,793.8 1757.1,793.6"/></g>
<path d="M621.0,1403.6 L627.6,1403.2 L634.2,1402.8 L640.8,1402.4 L647.5,1402.0 L654.1,1401.6 L660.7,1401.2 L667.3,1400.8 L673.9,1400.3 L680.5,1399.9 L687.1,1399.4 L693.8,1399.0 L700.4,1398.5 L707.0,1398.0 L713.6,1397.5 L720.2,1397.0 L726.8,1396.5 L733.5,1396.0 L740.1,1395.4 L746.7,1394.9 L753.3,1394.3 L759.9,1393.7 L766.5,1393.2 L773.1,1392.6 L779.8,1391.9 L786.4,1391.3 L793.0,1390.7 L799.6,1390.0 L806.2,1389.4 L812.8,1388.7 L819.5,1388.0 L826.1,1387.3 L832.7,1386.6 L839.3,1385.8 L845.9,1385.1 L852.5,1384.3 L859.1,1383.5 L865.8,1382.8 L872.4,1381.9 L879.0,1381.1 L885.6,1380.3 L892.2,1379.4 L898.8,1378.5 L905.4,1377.6 L912.1,1376.7 L918.7,1375.7 L925.3,1374.8 L931.9,1373.8 L938.5,1372.8 L945.1,1371.8 L951.8,1370.7 L958.4,1369.6 L965.0,1368.6 L971.6,1367.4 L978.2,1366.3 L984.8,1365.2 L991.4,1364.0 L998.1,1362.8 L1004.7,1361.5 L1011.3,1360.3 L1017.9,1359.0 L1024.5,1357.7 L1031.1,1356.3 L1037.7,1355.0 L1044.4,1353.6 L1051.0,1352.1 L1057.6,1350.7 L1064.2,1349.2 L1070.8,1347.7 L1077.4,1346.1 L1084.0,1344.6 L1090.7,1342.9 L1097.3,1341.3 L1103.9,1339.6 L1110.5,1337.9 L1117.1,1336.1 L1123.7,1334.3 L1130.4,1332.5 L1137.0,1330.6 L1143.6,1328.7 L1150.2,1326.8 L1156.8,1324.8 L1163.4,1322.8 L1170.0,1320.7 L1176.7,1318.6 L1183.3,1316.4 L1189.9,1314.2 L1196.5,1312.0 L1203.1,1309.7 L1209.7,1307.4 L1216.3,1305.0 L1223.0,1302.5 L1229.6,1300.0 L1236.2,1297.5 L1242.8,1294.9 L1249.4,1292.2 L1256.0,1289.5 L1262.7,1286.8 L1269.3,1283.9 L1275.9,1281.1 L1282.5,1278.1 L1289.1,1275.1 L1295.7,1272.0 L1302.3,1268.9 L1309.0,1265.7 L1315.6,1262.4 L1322.2,1259.1 L1328.8,1255.7 L1335.4,1252.2 L1342.0,1248.7 L1348.7,1245.1 L1355.3,1241.4 L1361.9,1237.6 L1368.5,1233.8 L1375.1,1229.8 L1381.7,1225.8 L1388.3,1221.7 L1395.0,1217.5 L1401.6,1213.3 L1408.2,1208.9 L1414.8,1204.4 L1421.4,1199.9 L1428.0,1195.3 L1434.6,1190.5 L1441.3,1185.7 L1447.9,1180.7 L1454.5,1175.7 L1461.1,1170.6 L1467.7,1165.3 L1474.3,1159.9 L1481.0,1154.5 L1487.6,1148.9 L1494.2,1143.2 L1500.8,1137.3 L1507.4,1131.4 L1514.0,1125.3 L1520.6,1119.1 L1527.3,1112.8 L1533.9,1106.3 L1540.5,1099.7 L1547.1,1093.0 L1553.7,1086.1 L1560.3,1079.1 L1566.9,1071.9 L1573.6,1064.6 L1580.2,1057.1 L1586.8,1049.5 L1593.4,1041.7 L1600.0,1033.8 L1606.6,1025.7 L1613.2,1017.4 L1619.9,1008.9 L1626.5,1000.3 L1633.1,991.5 L1639.7,982.5 L1646.3,973.3 L1652.9,963.9 L1659.6,954.3 L1666.2,944.6 L1672.8,934.6 L1679.4,924.4 L1686.0,914.0 L1692.6,903.4 L1699.2,892.5 L1705.9,881.4 L1712.5,870.1 L1719.1,858.6 L1725.7,846.8 L1732.3,834.8 L1738.9,822.5 L1745.5,810.0 L1752.2,797.2 L1758.8,784.1 L1765.4,770.8 L1772.0,757.2 L1778.6,743.3 L1785.2,729.1 L1791.9,714.6 L1798.5,699.8 L1805.1,684.7 L1811.7,669.3 L1818.3,653.5 L1824.9,637.5 L1831.5,621.1 L1838.2,604.3 L1844.8,587.2 L1851.4,569.8 L1858.0,551.9 L1864.6,533.7 L1871.2,515.2 L1877.8,496.2 L1884.5,476.9 L1891.1,457.1 L1897.7,436.9 L1904.3,416.3 L1910.9,395.3 L1917.5,373.8 L1924.2,351.9 L1930.8,329.5 L1937.4,306.7 L1944.0,283.3" fill="none" stroke="#111" stroke-width="5.5"/>
<path d="M621.0,1399.9 L627.6,1399.4 L634.2,1398.9 L640.8,1398.4 L647.5,1397.9 L654.1,1397.3 L660.7,1396.8 L667.3,1396.2 L673.9,1395.7 L680.5,1395.1 L687.1,1394.5 L693.8,1393.9 L700.4,1393.3 L707.0,1392.7 L713.6,1392.1 L720.2,1391.4 L726.8,1390.8 L733.5,1390.1 L740.1,1389.4 L746.7,1388.7 L753.3,1388.0 L759.9,1387.3 L766.5,1386.6 L773.1,1385.8 L779.8,1385.1 L786.4,1384.3 L793.0,1383.5 L799.6,1382.7 L806.2,1381.9 L812.8,1381.0 L819.5,1380.2 L826.1,1379.3 L832.7,1378.5 L839.3,1377.6 L845.9,1376.6 L852.5,1375.7 L859.1,1374.8 L865.8,1373.8 L872.4,1372.8 L879.0,1371.8 L885.6,1370.8 L892.2,1369.7 L898.8,1368.7 L905.4,1367.6 L912.1,1366.5 L918.7,1365.4 L925.3,1364.2 L931.9,1363.1 L938.5,1361.9 L945.1,1360.7 L951.8,1359.4 L958.4,1358.2 L965.0,1356.9 L971.6,1355.6 L978.2,1354.3 L984.8,1352.9 L991.4,1351.5 L998.1,1350.1 L1004.7,1348.7 L1011.3,1347.3 L1017.9,1345.8 L1024.5,1344.3 L1031.1,1342.7 L1037.7,1341.2 L1044.4,1339.6 L1051.0,1337.9 L1057.6,1336.3 L1064.2,1334.6 L1070.8,1332.9 L1077.4,1331.1 L1084.0,1329.3 L1090.7,1327.5 L1097.3,1325.7 L1103.9,1323.8 L1110.5,1321.8 L1117.1,1319.9 L1123.7,1317.9 L1130.4,1315.9 L1137.0,1313.8 L1143.6,1311.7 L1150.2,1309.5 L1156.8,1307.3 L1163.4,1305.1 L1170.0,1302.8 L1176.7,1300.5 L1183.3,1298.2 L1189.9,1295.8 L1196.5,1293.3 L1203.1,1290.8 L1209.7,1288.3 L1216.3,1285.7 L1223.0,1283.0 L1229.6,1280.4 L1236.2,1277.6 L1242.8,1274.8 L1249.4,1272.0 L1256.0,1269.1 L1262.7,1266.1 L1269.3,1263.1 L1275.9,1260.1 L1282.5,1257.0 L1289.1,1253.8 L1295.7,1250.6 L1302.3,1247.3 L1309.0,1243.9 L1315.6,1240.5 L1322.2,1237.0 L1328.8,1233.5 L1335.4,1229.8 L1342.0,1226.1 L1348.7,1222.4 L1355.3,1218.6 L1361.9,1214.7 L1368.5,1210.7 L1375.1,1206.7 L1381.7,1202.5 L1388.3,1198.4 L1395.0,1194.1 L1401.6,1189.7 L1408.2,1185.3 L1414.8,1180.8 L1421.4,1176.2 L1428.0,1171.5 L1434.6,1166.7 L1441.3,1161.8 L1447.9,1156.9 L1454.5,1151.8 L1461.1,1146.7 L1467.7,1141.4 L1474.3,1136.1 L1481.0,1130.6 L1487.6,1125.1 L1494.2,1119.4 L1500.8,1113.7 L1507.4,1107.8 L1514.0,1101.9 L1520.6,1095.8 L1527.3,1089.6 L1533.9,1083.3 L1540.5,1076.8 L1547.1,1070.3 L1553.7,1063.6 L1560.3,1056.8 L1566.9,1049.9 L1573.6,1042.8 L1580.2,1035.6 L1586.8,1028.3 L1593.4,1020.8 L1600.0,1013.2 L1606.6,1005.5 L1613.2,997.6 L1619.9,989.6 L1626.5,981.4 L1633.1,973.0 L1639.7,964.5 L1646.3,955.9 L1652.9,947.1 L1659.6,938.1 L1666.2,928.9 L1672.8,919.6 L1679.4,910.1 L1686.0,900.4 L1692.6,890.6 L1699.2,880.5 L1705.9,870.3 L1712.5,859.9 L1719.1,849.2 L1725.7,838.4 L1732.3,827.4 L1738.9,816.2 L1745.5,804.7 L1752.2,793.1 L1758.8,781.2 L1765.4,769.1 L1772.0,756.8 L1778.6,744.2 L1785.2,731.4 L1791.9,718.4 L1798.5,705.1 L1805.1,691.6 L1811.7,677.8 L1818.3,663.8 L1824.9,649.5 L1831.5,634.9 L1838.2,620.1 L1844.8,605.0 L1851.4,589.6 L1858.0,573.9 L1864.6,557.9 L1871.2,541.7 L1877.8,525.1 L1884.5,508.2 L1891.1,491.0 L1897.7,473.4 L1904.3,455.6 L1910.9,437.4 L1917.5,418.8 L1924.2,399.9 L1930.8,380.7 L1937.4,361.1 L1944.0,341.1" fill="none" stroke="#e03030" stroke-width="5.5" stroke-dasharray="32 30"/>
<path d="M621.0,1393.0 L627.6,1392.5 L634.2,1391.9 L640.8,1391.4 L647.4,1390.8 L654.0,1390.2 L660.6,1389.6 L667.2,1389.0 L673.8,1388.4 L680.4,1387.8 L687.0,1387.1 L693.6,1386.5 L700.2,1385.8 L706.8,1385.1 L713.4,1384.4 L720.0,1383.7 L726.6,1383.0 L733.2,1382.3 L739.8,1381.5 L746.4,1380.8 L753.0,1380.0 L759.6,1379.2 L766.2,1378.4 L772.8,1377.6 L779.4,1376.7 L786.0,1375.9 L792.6,1375.0 L799.2,1374.1 L805.8,1373.2 L812.4,1372.3 L819.0,1371.4 L825.6,1370.4 L832.2,1369.4 L838.8,1368.4 L845.4,1367.4 L852.0,1366.4 L858.6,1365.3 L865.2,1364.3 L871.8,1363.2 L878.4,1362.1 L885.0,1360.9 L891.6,1359.8 L898.2,1358.6 L904.8,1357.4 L911.4,1356.2 L918.0,1354.9 L924.6,1353.7 L931.2,1352.4 L937.8,1351.1 L944.4,1349.7 L951.0,1348.3 L957.6,1346.9 L964.2,1345.5 L970.8,1344.1 L977.4,1342.6 L984.0,1341.1 L990.6,1339.6 L997.2,1338.0 L1003.8,1336.4 L1010.4,1334.8 L1017.0,1333.1 L1023.6,1331.4 L1030.2,1329.7 L1036.8,1328.0 L1043.4,1326.2 L1050.0,1324.4 L1056.6,1322.5 L1063.2,1320.6 L1069.8,1318.7 L1076.4,1316.7 L1083.0,1314.7 L1089.6,1312.7 L1096.2,1310.6 L1102.8,1308.5 L1109.4,1306.4 L1116.0,1304.2 L1122.6,1301.9 L1129.2,1299.7 L1135.8,1297.3 L1142.4,1295.0 L1149.0,1292.5 L1155.6,1290.1 L1162.2,1287.6 L1168.8,1285.0 L1175.4,1282.4 L1182.0,1279.8 L1188.6,1277.1 L1195.2,1274.3 L1201.8,1271.5 L1208.4,1268.6 L1215.0,1265.7 L1221.6,1262.7 L1228.2,1259.7 L1234.8,1256.6 L1241.4,1253.5 L1248.0,1250.3 L1254.6,1247.0 L1261.2,1243.7 L1267.8,1240.3 L1274.4,1236.8 L1281.0,1233.3 L1287.6,1229.7 L1294.2,1226.0 L1300.8,1222.3 L1307.4,1218.5 L1314.0,1214.6 L1320.6,1210.7 L1327.2,1206.7 L1333.8,1202.6 L1340.4,1198.4 L1347.0,1194.1 L1353.6,1189.8 L1360.2,1185.4 L1366.8,1180.9 L1373.4,1176.3 L1380.0,1171.6 L1386.6,1166.8 L1393.2,1162.0 L1399.8,1157.0 L1406.4,1152.0 L1413.0,1146.8 L1419.6,1141.6 L1426.2,1136.2 L1432.8,1130.8 L1439.4,1125.2 L1446.0,1119.6 L1452.6,1113.8 L1459.2,1107.9 L1465.8,1102.0 L1472.4,1095.9 L1479.0,1089.6 L1485.6,1083.3 L1492.2,1076.9 L1498.8,1070.3 L1505.4,1063.6 L1512.0,1056.7 L1518.6,1049.8 L1525.2,1042.7 L1531.8,1035.5 L1538.4,1028.1 L1545.0,1020.6 L1551.6,1012.9 L1558.2,1005.1 L1564.8,997.2 L1571.4,989.1 L1578.0,980.8 L1584.6,972.4 L1591.2,963.9 L1597.8,955.1 L1604.4,946.2 L1611.0,937.1 L1617.6,927.9 L1624.2,918.5 L1630.8,908.9 L1637.4,899.1 L1644.0,889.1 L1650.6,879.0 L1657.2,868.6 L1663.8,858.0 L1670.4,847.3 L1677.0,836.3 L1683.6,825.2 L1690.2,813.8 L1696.8,802.2 L1703.4,790.4 L1710.0,778.3 L1716.6,766.0 L1723.2,753.5 L1729.8,740.8 L1736.4,727.8 L1743.0,714.5 L1749.6,701.0 L1756.2,687.3 L1762.8,673.3 L1769.4,659.0 L1776.0,644.4 L1782.6,629.6 L1789.2,614.5 L1795.8,599.1 L1802.4,583.4 L1809.0,567.4 L1815.6,551.1 L1822.2,534.5 L1828.8,517.5 L1835.4,500.3 L1842.0,482.7 L1848.6,464.8 L1855.2,446.5 L1861.8,427.9 L1868.4,408.9 L1875.0,389.6 L1881.6,369.9 L1888.2,349.8 L1894.8,329.4 L1901.4,308.5 L1908.0,287.3 L1914.6,265.6 L1921.2,243.6 L1927.8,221.1 L1934.4,198.2 L1941.0,174.8" fill="none" stroke="#2eeaea" stroke-width="6" stroke-dasharray="34 18 8 18"/>
<path d="M621.0,1402.9 L627.6,1402.5 L634.2,1402.1 L640.9,1401.6 L647.5,1401.2 L654.1,1400.7 L660.7,1400.2 L667.3,1399.8 L674.0,1399.3 L680.6,1398.8 L687.2,1398.2 L693.8,1397.7 L700.4,1397.2 L707.1,1396.6 L713.7,1396.1 L720.3,1395.5 L726.9,1395.0 L733.5,1394.4 L740.2,1393.8 L746.8,1393.2 L753.4,1392.5 L760.0,1391.9 L766.6,1391.3 L773.3,1390.6 L779.9,1389.9 L786.5,1389.3 L793.1,1388.6 L799.7,1387.8 L806.4,1387.1 L813.0,1386.4 L819.6,1385.6 L826.2,1384.9 L832.8,1384.1 L839.5,1383.3 L846.1,1382.5 L852.7,1381.6 L859.3,1380.8 L865.9,1379.9 L872.6,1379.1 L879.2,1378.2 L885.8,1377.2 L892.4,1376.3 L899.0,1375.4 L905.7,1374.4 L912.3,1373.4 L918.9,1372.4 L925.5,1371.4 L932.1,1370.3 L938.8,1369.3 L945.4,1368.2 L952.0,1367.1 L958.6,1366.0 L965.2,1364.8 L971.9,1363.6 L978.5,1362.4 L985.1,1361.2 L991.7,1360.0 L998.3,1358.7 L1005.0,1357.4 L1011.6,1356.1 L1018.2,1354.7 L1024.8,1353.4 L1031.4,1352.0 L1038.1,1350.6 L1044.7,1349.1 L1051.3,1347.6 L1057.9,1346.1 L1064.5,1344.6 L1071.2,1343.0 L1077.8,1341.4 L1084.4,1339.8 L1091.0,1338.1 L1097.6,1336.4 L1104.3,1334.7 L1110.9,1332.9 L1117.5,1331.2 L1124.1,1329.3 L1130.7,1327.5 L1137.4,1325.6 L1144.0,1323.6 L1150.6,1321.6 L1157.2,1319.6 L1163.8,1317.6 L1170.5,1315.5 L1177.1,1313.4 L1183.7,1311.2 L1190.3,1309.0 L1196.9,1306.7 L1203.6,1304.4 L1210.2,1302.0 L1216.8,1299.6 L1223.4,1297.2 L1230.0,1294.7 L1236.7,1292.2 L1243.3,1289.6 L1249.9,1286.9 L1256.5,1284.3 L1263.1,1281.5 L1269.8,1278.7 L1276.4,1275.9 L1283.0,1273.0 L1289.6,1270.0 L1296.2,1267.0 L1302.9,1263.9 L1309.5,1260.8 L1316.1,1257.6 L1322.7,1254.3 L1329.3,1251.0 L1336.0,1247.6 L1342.6,1244.1 L1349.2,1240.6 L1355.8,1237.0 L1362.4,1233.3 L1369.1,1229.6 L1375.7,1225.8 L1382.3,1221.9 L1388.9,1218.0 L1395.5,1213.9 L1402.2,1209.8 L1408.8,1205.6 L1415.4,1201.3 L1422.0,1197.0 L1428.6,1192.5 L1435.3,1188.0 L1441.9,1183.4 L1448.5,1178.7 L1455.1,1173.9 L1461.7,1169.0 L1468.4,1164.0 L1475.0,1158.9 L1481.6,1153.7 L1488.2,1148.5 L1494.8,1143.1 L1501.5,1137.6 L1508.1,1132.0 L1514.7,1126.3 L1521.3,1120.4 L1527.9,1114.5 L1534.6,1108.5 L1541.2,1102.3 L1547.8,1096.0 L1554.4,1089.6 L1561.0,1083.1 L1567.7,1076.4 L1574.3,1069.6 L1580.9,1062.7 L1587.5,1055.6 L1594.1,1048.4 L1600.8,1041.1 L1607.4,1033.6 L1614.0,1026.0 L1620.6,1018.2 L1627.2,1010.3 L1633.9,1002.2 L1640.5,994.0 L1647.1,985.6 L1653.7,977.0 L1660.3,968.3 L1667.0,959.4 L1673.6,950.3 L1680.2,941.1 L1686.8,931.6 L1693.4,922.0 L1700.1,912.2 L1706.7,902.2 L1713.3,892.0 L1719.9,881.6 L1726.5,871.1 L1733.2,860.3 L1739.8,849.3 L1746.4,838.1 L1753.0,826.6 L1759.6,815.0 L1766.3,803.1 L1772.9,791.0 L1779.5,778.6 L1786.1,766.0 L1792.7,753.2 L1799.4,740.1 L1806.0,726.7 L1812.6,713.1 L1819.2,699.3 L1825.8,685.1 L1832.5,670.7 L1839.1,656.0 L1845.7,641.0 L1852.3,625.7 L1858.9,610.2 L1865.6,594.3 L1872.2,578.1 L1878.8,561.6 L1885.4,544.8 L1892.0,527.6 L1898.7,510.2 L1905.3,492.3 L1911.9,474.2 L1918.5,455.6 L1925.1,436.8 L1931.8,417.5 L1938.4,397.9 L1945.0,377.9" fill="none" stroke="#e625e6" stroke-width="5.5" stroke-dasharray="29 16 7 17 7 16"/>
</svg>
</body></html>
